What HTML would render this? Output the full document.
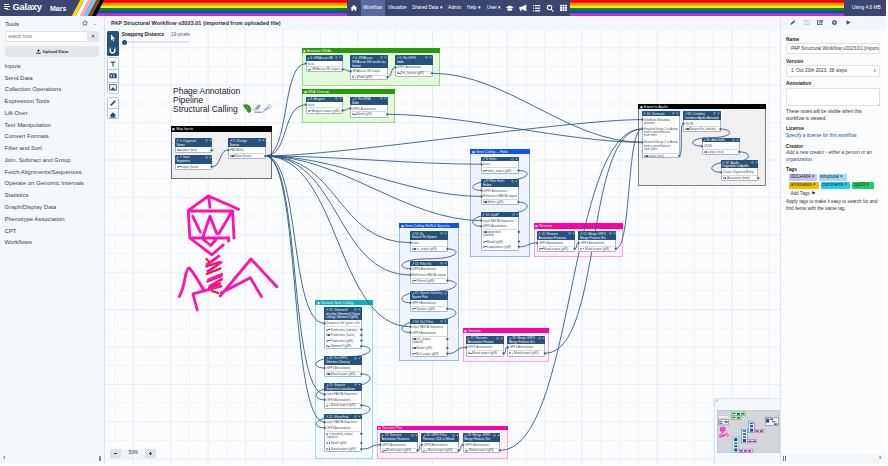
<!DOCTYPE html><html><head><meta charset="utf-8"><style>
*{box-sizing:border-box;margin:0;padding:0}
html,body{width:888px;height:466px;overflow:hidden;background:#fff;font-family:"Liberation Sans", sans-serif;}
.a{position:absolute}
.t{position:absolute;white-space:nowrap;line-height:1}
</style></head><body><div class="a" style="left:0;top:0;width:886px;height:16px;background:#3c4670"></div>
<svg class="a" style="left:0;top:0" width="886" height="16" viewBox="0 0 886 16"><polygon points="104.2,0.0 844,0.0 844,2.6666666666666665 102.8,2.6666666666666665" fill="#ff0000"/><polygon points="102.8,2.6666666666666665 844,2.6666666666666665 844,5.333333333333333 101.4,5.333333333333333" fill="#ff8c00"/><polygon points="101.4,5.333333333333333 844,5.333333333333333 844,8.0 100.0,8.0" fill="#ffed00"/><polygon points="100.0,8.0 844,8.0 844,10.666666666666666 98.60000000000001,10.666666666666666" fill="#008a1e"/><polygon points="98.60000000000001,10.666666666666666 844,10.666666666666666 844,13.333333333333334 97.2,13.333333333333334" fill="#0a4fb5"/><polygon points="97.2,13.333333333333334 844,13.333333333333334 844,16.0 95.8,16.0" fill="#c22fd6"/><polygon points="100.2,0 104.2,0 95.8,16 91.8,16" fill="#000000"/><polygon points="96.2,0 100.2,0 91.8,16 87.8,16" fill="#8b4a12"/><polygon points="92.2,0 96.2,0 87.8,16 83.8,16" fill="#6fcff0"/><polygon points="88.2,0 92.2,0 83.8,16 79.8,16" fill="#f4a9c4"/><polygon points="84.2,0 88.2,0 79.8,16 75.8,16" fill="#ffffff"/><polygon points="80.2,0 84.2,0 75.8,16 71.8,16" fill="#ffd800"/></svg>
<div class="a" style="left:347px;top:0;width:223px;height:16px;background:#3c4670"></div>
<div class="a" style="left:844px;top:0;width:42px;height:16px;background:#3c4670"></div>
<div class="a" style="left:361px;top:0;width:24px;height:16px;background:#5a689f"></div>
<svg class="a" style="left:4px;top:4px" width="7" height="6" viewBox="0 0 7 6"><rect x="0" y="0" width="5" height="1" fill="#fff"/><rect x="0" y="2" width="6" height="1" fill="#fff"/><rect x="0" y="4" width="4" height="1" fill="#fff"/><rect x="2" y="5" width="4" height="1" fill="#f2c037"/></svg>
<div class="t" style="left:12.5px;top:3px;font-size:9.3px;font-weight:bold;color:#fff;letter-spacing:-0.2px">Galaxy</div>
<div class="t" style="left:50px;top:4.5px;font-size:7px;font-weight:bold;color:#fff">Mars</div>
<div class="t" style="left:363px;top:6.2px;font-size:4.7px;color:#fff">Workflow</div>
<div class="t" style="left:388px;top:6.2px;font-size:4.7px;color:#fff">Visualize</div>
<div class="t" style="left:412px;top:6.2px;font-size:4.7px;color:#fff">Shared Data ▾</div>
<div class="t" style="left:448px;top:6.2px;font-size:4.7px;color:#fff">Admin</div>
<div class="t" style="left:467px;top:6.2px;font-size:4.7px;color:#fff">Help ▾</div>
<div class="t" style="left:487px;top:6.2px;font-size:4.7px;color:#fff">User ▾</div>
<div class="t" style="left:852px;top:6px;font-size:4.8px;color:#fff">Using 4.6 MB</div>
<svg class="a" style="left:0;top:0;overflow:visible" width="888" height="16"><g fill="#fff"><path d="M350.6,8.2 L353.9,5 L357.2,8.2 L356.3,8.2 L356.3,10.8 L354.6,10.8 L354.6,9.2 L353.2,9.2 L353.2,10.8 L351.5,10.8 L351.5,8.2 Z"/><path d="M505.7,7.3 L509.8,5.6 L513.8,7.3 L509.8,9 Z"/><path d="M507.3,8.3 L507.3,10.2 Q509.8,11.3 512.2,10.2 L512.2,8.3 L509.8,9.4 Z"/><path d="M519.4,6.8 L522,6.8 L526.3,4.6 L526.3,11.2 L522,9.2 L521.2,9.2 L521.8,11.2 L520.6,11.2 L519.9,9.2 L519.4,9.2 Z"/><rect x="533" y="5" width="1.2" height="1.2"/><rect x="535" y="5" width="5.2" height="1.2"/><rect x="533" y="7.6" width="1.2" height="1.2"/><rect x="535" y="7.6" width="5.2" height="1.2"/><rect x="533" y="10.2" width="1.2" height="1.2"/><rect x="535" y="10.2" width="5.2" height="1.2"/></g><g fill="none" stroke="#fff" stroke-width="1.1"><circle cx="549.5" cy="7.6" r="2.2"/><path d="M551.1,9.3 L553.2,11.3"/></g><g fill="#fff"><rect x="560.00" y="4.80" width="2" height="1.75"/><rect x="560.00" y="7.00" width="2" height="1.75"/><rect x="560.00" y="9.20" width="2" height="1.75"/><rect x="562.45" y="4.80" width="2" height="1.75"/><rect x="562.45" y="7.00" width="2" height="1.75"/><rect x="562.45" y="9.20" width="2" height="1.75"/><rect x="564.90" y="4.80" width="2" height="1.75"/><rect x="564.90" y="7.00" width="2" height="1.75"/><rect x="564.90" y="9.20" width="2" height="1.75"/></g></svg>
<div class="a" style="left:0;top:16px;width:105px;height:448px;background:#f4f8fb;border-right:1px solid #dfe5ec"></div>
<div class="t" style="left:5px;top:21px;font-size:6px;color:#2c3143">Tools</div>
<svg class="a" style="left:81.5px;top:20.3px" width="6" height="6" viewBox="0 0 10 10"><path d="M5,0.8 L6.2,3.7 L9.3,3.9 L6.9,5.9 L7.7,9 L5,7.3 L2.3,9 L3.1,5.9 L0.7,3.9 L3.8,3.7 Z" fill="none" stroke="#25527e" stroke-width="1"/></svg>
<div class="t" style="left:94px;top:21px;font-size:6px;color:#25537b">-</div>
<div class="a" style="left:5px;top:31px;width:94px;height:11px;background:#fff;border:1px solid #dfe3e8;border-radius:1px"></div>
<div class="a" style="left:87px;top:31px;width:12px;height:11px;background:#e4e7eb"></div>
<div class="t" style="left:8px;top:34.5px;font-size:4.5px;color:#777">search tools</div>
<div class="t" style="left:91px;top:34px;font-size:5px;color:#333">&#10005;</div>
<div class="a" style="left:5px;top:46px;width:94px;height:11px;background:#e4e7eb;border-radius:1px"></div>
<svg class="a" style="left:36px;top:48.8px" width="5" height="5" viewBox="0 0 10 10"><path d="M5,0.5 L8,4 L6,4 L6,6.5 L4,6.5 L4,4 L2,4 Z M1,6 L1,9.3 L9,9.3 L9,6 L7.5,6 L7.5,7.8 L2.5,7.8 L2.5,6 Z" fill="#2c3143"/></svg>
<div class="t" style="left:42.5px;top:49.6px;font-size:4.4px;font-weight:bold;color:#2c3143">Upload Data</div>
<div class="t" style="left:4.6px;top:63.7px;font-size:5.95px;color:#3d4250">Inputs</div>
<div class="t" style="left:4.6px;top:75.5px;font-size:5.95px;color:#3d4250">Send Data</div>
<div class="t" style="left:4.6px;top:87.2px;font-size:5.95px;color:#3d4250">Collection Operations</div>
<div class="t" style="left:4.6px;top:99.0px;font-size:5.95px;color:#3d4250">Expression Tools</div>
<div class="t" style="left:4.6px;top:110.8px;font-size:5.95px;color:#3d4250">Lift-Over</div>
<div class="t" style="left:4.6px;top:122.5px;font-size:5.95px;color:#3d4250">Text Manipulation</div>
<div class="t" style="left:4.6px;top:134.3px;font-size:5.95px;color:#3d4250">Convert Formats</div>
<div class="t" style="left:4.6px;top:146.1px;font-size:5.95px;color:#3d4250">Filter and Sort</div>
<div class="t" style="left:4.6px;top:157.9px;font-size:5.95px;color:#3d4250">Join, Subtract and Group</div>
<div class="t" style="left:4.6px;top:169.6px;font-size:5.95px;color:#3d4250">Fetch Alignments/Sequences</div>
<div class="t" style="left:4.6px;top:181.4px;font-size:5.95px;color:#3d4250">Operate on Genomic Intervals</div>
<div class="t" style="left:4.6px;top:193.2px;font-size:5.95px;color:#3d4250">Statistics</div>
<div class="t" style="left:4.6px;top:204.9px;font-size:5.95px;color:#3d4250">Graph/Display Data</div>
<div class="t" style="left:4.6px;top:216.7px;font-size:5.95px;color:#3d4250">Phenotype Association</div>
<div class="t" style="left:4.6px;top:228.5px;font-size:5.95px;color:#3d4250">CPT</div>
<div class="t" style="left:4.6px;top:240.2px;font-size:5.95px;color:#3d4250">Workflows</div>
<div class="t" style="left:3px;top:454px;font-size:7px;color:#333">&#8249;</div>
<div class="a" style="left:99.3px;top:456px;width:2.2px;height:5px;background:#888"></div>
<div class="a" style="left:105px;top:16px;width:675px;height:14px;background:#f3f8fb"></div>
<div class="t" style="left:111px;top:21px;font-size:5.6px;font-weight:bold;color:#2c3143">PAP Structural Workflow v2023.01 (imported from uploaded file)</div>
<svg class="a" style="left:105px;top:30px" width="675" height="434"><rect width="675" height="434" fill="#fafcfe"/><line x1="9.6" y1="0" x2="9.6" y2="434" stroke="#f1f4f9" stroke-width="1"/><line x1="28.3" y1="0" x2="28.3" y2="434" stroke="#e6ecf5" stroke-width="1"/><line x1="47.0" y1="0" x2="47.0" y2="434" stroke="#f1f4f9" stroke-width="1"/><line x1="65.7" y1="0" x2="65.7" y2="434" stroke="#ebf0f7" stroke-width="1"/><line x1="84.4" y1="0" x2="84.4" y2="434" stroke="#f1f4f9" stroke-width="1"/><line x1="103.1" y1="0" x2="103.1" y2="434" stroke="#e6ecf5" stroke-width="1"/><line x1="121.8" y1="0" x2="121.8" y2="434" stroke="#f1f4f9" stroke-width="1"/><line x1="140.5" y1="0" x2="140.5" y2="434" stroke="#ebf0f7" stroke-width="1"/><line x1="159.2" y1="0" x2="159.2" y2="434" stroke="#f1f4f9" stroke-width="1"/><line x1="177.9" y1="0" x2="177.9" y2="434" stroke="#e6ecf5" stroke-width="1"/><line x1="196.6" y1="0" x2="196.6" y2="434" stroke="#f1f4f9" stroke-width="1"/><line x1="215.3" y1="0" x2="215.3" y2="434" stroke="#ebf0f7" stroke-width="1"/><line x1="234.0" y1="0" x2="234.0" y2="434" stroke="#f1f4f9" stroke-width="1"/><line x1="252.7" y1="0" x2="252.7" y2="434" stroke="#e6ecf5" stroke-width="1"/><line x1="271.4" y1="0" x2="271.4" y2="434" stroke="#f1f4f9" stroke-width="1"/><line x1="290.1" y1="0" x2="290.1" y2="434" stroke="#ebf0f7" stroke-width="1"/><line x1="308.8" y1="0" x2="308.8" y2="434" stroke="#f1f4f9" stroke-width="1"/><line x1="327.5" y1="0" x2="327.5" y2="434" stroke="#e6ecf5" stroke-width="1"/><line x1="346.2" y1="0" x2="346.2" y2="434" stroke="#f1f4f9" stroke-width="1"/><line x1="364.9" y1="0" x2="364.9" y2="434" stroke="#ebf0f7" stroke-width="1"/><line x1="383.6" y1="0" x2="383.6" y2="434" stroke="#f1f4f9" stroke-width="1"/><line x1="402.3" y1="0" x2="402.3" y2="434" stroke="#e6ecf5" stroke-width="1"/><line x1="421.0" y1="0" x2="421.0" y2="434" stroke="#f1f4f9" stroke-width="1"/><line x1="439.7" y1="0" x2="439.7" y2="434" stroke="#ebf0f7" stroke-width="1"/><line x1="458.4" y1="0" x2="458.4" y2="434" stroke="#f1f4f9" stroke-width="1"/><line x1="477.1" y1="0" x2="477.1" y2="434" stroke="#e6ecf5" stroke-width="1"/><line x1="495.8" y1="0" x2="495.8" y2="434" stroke="#f1f4f9" stroke-width="1"/><line x1="514.5" y1="0" x2="514.5" y2="434" stroke="#ebf0f7" stroke-width="1"/><line x1="533.2" y1="0" x2="533.2" y2="434" stroke="#f1f4f9" stroke-width="1"/><line x1="551.9" y1="0" x2="551.9" y2="434" stroke="#e6ecf5" stroke-width="1"/><line x1="570.6" y1="0" x2="570.6" y2="434" stroke="#f1f4f9" stroke-width="1"/><line x1="589.3" y1="0" x2="589.3" y2="434" stroke="#ebf0f7" stroke-width="1"/><line x1="608.0" y1="0" x2="608.0" y2="434" stroke="#f1f4f9" stroke-width="1"/><line x1="626.7" y1="0" x2="626.7" y2="434" stroke="#e6ecf5" stroke-width="1"/><line x1="645.4" y1="0" x2="645.4" y2="434" stroke="#f1f4f9" stroke-width="1"/><line x1="664.1" y1="0" x2="664.1" y2="434" stroke="#ebf0f7" stroke-width="1"/><line x1="0" y1="17.8" x2="675" y2="17.8" stroke="#ebf0f7" stroke-width="1"/><line x1="0" y1="36.5" x2="675" y2="36.5" stroke="#f1f4f9" stroke-width="1"/><line x1="0" y1="55.2" x2="675" y2="55.2" stroke="#e6ecf5" stroke-width="1"/><line x1="0" y1="73.9" x2="675" y2="73.9" stroke="#f1f4f9" stroke-width="1"/><line x1="0" y1="92.6" x2="675" y2="92.6" stroke="#ebf0f7" stroke-width="1"/><line x1="0" y1="111.3" x2="675" y2="111.3" stroke="#f1f4f9" stroke-width="1"/><line x1="0" y1="130.0" x2="675" y2="130.0" stroke="#e6ecf5" stroke-width="1"/><line x1="0" y1="148.7" x2="675" y2="148.7" stroke="#f1f4f9" stroke-width="1"/><line x1="0" y1="167.4" x2="675" y2="167.4" stroke="#ebf0f7" stroke-width="1"/><line x1="0" y1="186.1" x2="675" y2="186.1" stroke="#f1f4f9" stroke-width="1"/><line x1="0" y1="204.8" x2="675" y2="204.8" stroke="#e6ecf5" stroke-width="1"/><line x1="0" y1="223.5" x2="675" y2="223.5" stroke="#f1f4f9" stroke-width="1"/><line x1="0" y1="242.2" x2="675" y2="242.2" stroke="#ebf0f7" stroke-width="1"/><line x1="0" y1="260.9" x2="675" y2="260.9" stroke="#f1f4f9" stroke-width="1"/><line x1="0" y1="279.6" x2="675" y2="279.6" stroke="#e6ecf5" stroke-width="1"/><line x1="0" y1="298.3" x2="675" y2="298.3" stroke="#f1f4f9" stroke-width="1"/><line x1="0" y1="317.0" x2="675" y2="317.0" stroke="#ebf0f7" stroke-width="1"/><line x1="0" y1="335.7" x2="675" y2="335.7" stroke="#f1f4f9" stroke-width="1"/><line x1="0" y1="354.4" x2="675" y2="354.4" stroke="#e6ecf5" stroke-width="1"/><line x1="0" y1="373.1" x2="675" y2="373.1" stroke="#f1f4f9" stroke-width="1"/><line x1="0" y1="391.8" x2="675" y2="391.8" stroke="#ebf0f7" stroke-width="1"/><line x1="0" y1="410.5" x2="675" y2="410.5" stroke="#f1f4f9" stroke-width="1"/><line x1="0" y1="429.2" x2="675" y2="429.2" stroke="#e6ecf5" stroke-width="1"/></svg>
<div class="a" style="left:106.5px;top:31.4px;width:12.2px;height:24.3px;background:#25527e;border-radius:1.5px"></div>
<svg class="a" style="left:109px;top:34px" width="7" height="8" viewBox="0 0 7 8"><path d="M2,0.5 L2,6.5 L3.3,5.2 L4.4,7.4 L5.2,7 L4.2,4.9 L6,4.8 Z" fill="#fff"/></svg>
<svg class="a" style="left:109.1px;top:46.8px" width="7" height="7" viewBox="0 0 7 7"><path d="M1.2,0.6 L1.2,3.6 A2.3,2.3 0 0 0 5.8,3.6 L5.8,0.6" fill="none" stroke="#fff" stroke-width="1.5"/><rect x="0.4" y="0.4" width="1.6" height="1.2" fill="#25527e"/><rect x="5" y="0.4" width="1.6" height="1.2" fill="#25527e"/></svg>
<div class="a" style="left:106.5px;top:57.2px;width:12.2px;height:36.8px;background:#fff;border:0.7px solid #b9c7d5;border-radius:1.5px"></div>
<div class="a" style="left:106.8px;top:69.4px;width:11.6px;height:0.6px;background:#b9c7d5"></div>
<div class="a" style="left:106.8px;top:81.6px;width:11.6px;height:0.6px;background:#b9c7d5"></div>
<svg class="a" style="left:109.6px;top:60.6px" width="6" height="6" viewBox="0 0 6 6"><path d="M0.6,0.6 L5.4,0.6 L5.4,1.8 L3.6,1.8 L3.6,5.6 L2.4,5.6 L2.4,1.8 L0.6,1.8 Z" fill="#25527e"/></svg>
<svg class="a" style="left:108.6px;top:72.5px" width="8" height="6" viewBox="0 0 8 6"><rect x="0.3" y="0.3" width="7.4" height="5" rx="0.6" fill="#25527e"/><path d="M1.5,1.5 L3,2.8 L1.5,4.1 M4,1.5 L5.5,2.8 L4,4.1" stroke="#fff" stroke-width="0.8" fill="none"/></svg>
<svg class="a" style="left:108.6px;top:84.2px" width="8" height="7" viewBox="0 0 8 7"><rect x="0.7" y="0.7" width="6.6" height="5.4" fill="none" stroke="#25527e" stroke-width="0.85"/><path d="M1.5,6 L4,3 L6.5,6 Z" fill="#25527e"/></svg>
<div class="a" style="left:106.5px;top:96.5px;width:12.2px;height:22.9px;background:#fff;border:0.7px solid #b9c7d5;border-radius:1.5px"></div>
<div class="a" style="left:106.8px;top:108px;width:11.6px;height:0.6px;background:#b9c7d5"></div>
<svg class="a" style="left:108.5px;top:99px" width="8" height="8" viewBox="0 0 8 8"><path d="M1.2,6.8 L1.6,5.2 L5.6,1.2 L6.8,2.4 L2.8,6.4 Z" fill="#25527e"/></svg>
<svg class="a" style="left:108.5px;top:110.5px" width="8" height="7" viewBox="0 0 8 7"><path d="M0.8,4.5 L3.8,1.2 L7,4.2 L5,6.2 L2.4,6.2 Z" fill="#25527e"/><rect x="0.5" y="6.2" width="7" height="0.6" fill="#25527e"/></svg>
<div class="t" style="left:121.8px;top:33.4px;font-size:4.7px;font-weight:bold;color:#222">Snapping Distance</div>
<div class="t" style="left:171px;top:33.2px;font-size:4.75px;color:#555">19 pixels</div>
<div class="a" style="left:123px;top:41.2px;width:66px;height:1.6px;background:#e2e5e9;border-radius:1px"></div>
<div class="a" style="left:122.3px;top:39.5px;width:5px;height:5px;background:#25527e;border-radius:50%"></div>
<div class="t" style="left:173px;top:87.2px;font-size:8.5px;color:#222;line-height:8.7px">Phage Annotation<br>Pipeline<br>Structural Calling</div>
<svg class="a" style="left:242px;top:103px" width="32" height="11" viewBox="0 0 32 11"><path d="M1.3,1.6 Q4.5,0.8 7.2,2.2 Q9.5,4.5 9.3,7.8 Q8.8,10.2 6.8,9.8 Q5.5,9.6 5,8 Q4.4,6.2 2.8,5.2 Q1,3.8 1.3,1.6 Z" fill="#3f8f2a"/><circle cx="5.4" cy="4.2" r="0.5" fill="#8ccf6a"/><path d="M11.2,6.2 L14.3,8.6 M13,5.6 L16.8,1.6 L18.5,2.8 L15.7,6.8 Z" fill="#9aabbd" stroke="#8193a8" stroke-width="0.7"/><rect x="12.8" y="8.6" width="7.5" height="1.3" fill="#8a9aac"/><path d="M20.8,9.3 Q24.5,6.5 27.5,1.3 M21.5,7 Q25.8,7 29.8,3.2" stroke="#b47fe0" stroke-width="0.9" fill="none"/><path d="M23,5 L25,7.2 M25,3.2 L27,5.6" stroke="#5ab2f0" stroke-width="0.8"/></svg>
<svg class="a" style="left:0;top:0;overflow:visible" width="888" height="466"><g fill="none" stroke="#ff10b0" stroke-width="2.8" stroke-linecap="round" stroke-linejoin="round"><path d="M188.3,210.3 L208.5,196 L238.6,209.2 M208.5,196 L210,207.3 M188.3,211 L232.6,211 L234,238 M188.3,211 L189.8,238 L228.8,238 L228.5,241 M192.8,216.3 L200.3,232 M203,236.5 L210,216.3 L216.7,233.5 M219,233.5 L231.2,212.5 M189.8,238 L212,254.8 L223.1,245 M203.3,239.5 L210.8,245.5 L216,239.5"/></g><g fill="none" stroke="#e0201e" stroke-width="2.2" stroke-linecap="round"><path d="M206.4,259 L208.5,261 M206.2,266.5 L219.5,262 M206.8,274 L220.5,268.5 M207.5,281.5 L221.5,276 M209,288 L220,283.5 M212,291 L218,293"/></g><g fill="none" stroke="#ff10b0" stroke-width="2.8" stroke-linecap="round" stroke-linejoin="round"><path d="M207.1,264.5 L218.9,256.2 M207.8,271.5 L221,262.4 M208.5,279.9 L221.7,274.3 M209.9,286.1 L221.7,279.2 M179.2,296.6 Q183,290 185,278 Q187,268 189,268 Q192,270 204.3,291 M193.1,293.8 L221,286.1 M193.1,294.5 L197.3,310 M220.3,295.9 L251,259 L276.8,286.8 M221,293.1 L250.3,277.8 L261.5,296.6"/></g></svg>
<div class="a" style="left:170.6px;top:126.1px;width:101.1px;height:52.8px;background:#f0f0f0;border:0.9px solid #707070;border-top:none"></div>
<div class="a" style="left:170.6px;top:126.1px;width:101.1px;height:5.6px;background:#000000"></div>
<div class="t" style="left:172.3px;top:128.3px;font-size:3.4px;color:#f4f4f4">&#9635; Map Inputs</div>
<div class="a" style="left:301.6px;top:48.0px;width:138.4px;height:37.6px;background:#e4f9dc;border:0.9px solid #9ad88a;border-top:none"></div>
<div class="a" style="left:301.6px;top:48.0px;width:138.4px;height:4.9px;background:#279a08"></div>
<div class="t" style="left:303.3px;top:49.9px;font-size:3.4px;color:#f4f4f4">&#9635; Annotate tRNAs</div>
<div class="a" style="left:301.8px;top:89.0px;width:93.4px;height:33.9px;background:#e4f9dc;border:0.9px solid #9ad88a;border-top:none"></div>
<div class="a" style="left:301.8px;top:89.0px;width:93.4px;height:5.0px;background:#279a08"></div>
<div class="t" style="left:303.5px;top:90.9px;font-size:3.4px;color:#f4f4f4">&#9635; tRNA Cleanup</div>
<div class="a" style="left:638.2px;top:104.0px;width:128.2px;height:82.3px;background:#f0f0f0;border:0.9px solid #808080;border-top:none"></div>
<div class="a" style="left:638.2px;top:104.0px;width:128.2px;height:4.8px;background:#000000"></div>
<div class="t" style="left:639.9px;top:105.8px;font-size:3.4px;color:#f4f4f4">&#9635; Export to Apollo</div>
<div class="a" style="left:470.0px;top:149.0px;width:59.7px;height:108.2px;background:#eef3fd;border:0.9px solid #9ab8f4;border-top:none"></div>
<div class="a" style="left:470.0px;top:149.0px;width:59.7px;height:4.8px;background:#0d55f2"></div>
<div class="t" style="left:471.7px;top:150.8px;font-size:3.4px;color:#f4f4f4">&#9635; Gene Calling ... Holin</div>
<div class="a" style="left:533.7px;top:223.3px;width:89.8px;height:34.1px;background:#fdf0f9;border:0.9px solid #f7a8da;border-top:none"></div>
<div class="a" style="left:533.7px;top:223.3px;width:89.8px;height:5.4px;background:#ff00a6"></div>
<div class="t" style="left:535.4px;top:225.4px;font-size:3.4px;color:#f4f4f4">&#9635; Rename</div>
<div class="a" style="left:399.0px;top:223.4px;width:59.7px;height:137.9px;background:#eef3fd;border:0.9px solid #9ab8f4;border-top:none"></div>
<div class="a" style="left:399.0px;top:223.4px;width:59.7px;height:5.1px;background:#0d55f2"></div>
<div class="t" style="left:400.7px;top:225.4px;font-size:3.4px;color:#f4f4f4">&#9635; Gene Calling Rz/Rz1 Spanins</div>
<div class="a" style="left:462.5px;top:327.9px;width:86.0px;height:33.9px;background:#fdf0f9;border:0.9px solid #f7a8da;border-top:none"></div>
<div class="a" style="left:462.5px;top:327.9px;width:86.0px;height:5.3px;background:#ff00a6"></div>
<div class="t" style="left:464.2px;top:329.9px;font-size:3.4px;color:#f4f4f4">&#9635; Rename</div>
<div class="a" style="left:315.0px;top:299.8px;width:58.1px;height:158.8px;background:#f4fbfc;border:0.9px solid #9fdde6;border-top:none"></div>
<div class="a" style="left:315.0px;top:299.8px;width:58.1px;height:5.0px;background:#10aec3"></div>
<div class="t" style="left:316.7px;top:301.7px;font-size:3.4px;color:#f4f4f4">&#9635; General Gene Calling</div>
<div class="a" style="left:376.5px;top:425.5px;width:131.4px;height:33.3px;background:#fdf0f9;border:0.9px solid #f7a8da;border-top:none"></div>
<div class="a" style="left:376.5px;top:425.5px;width:131.4px;height:4.4px;background:#ff00a6"></div>
<div class="t" style="left:378.2px;top:427.1px;font-size:3.4px;color:#f4f4f4">&#9635; Rename Plus</div>
<svg class="a" style="left:0;top:0;overflow:visible" width="888" height="466"><path d="M211.8,166.8 C221.7,166.8 218.4,150.0 228.3,150.0" fill="none" stroke="#25527e" stroke-width="0.85"/><path d="M265.2,156.0 C289.6,156.0 281.5,63.6 305.9,63.6" fill="none" stroke="#25527e" stroke-width="0.85"/><path d="M265.2,156.0 C289.7,156.0 281.5,104.8 306.0,104.8" fill="none" stroke="#25527e" stroke-width="0.85"/><path d="M265.2,156.0 C340.2,156.0 567.2,119.6 642.2,119.6" fill="none" stroke="#25527e" stroke-width="0.85"/><path d="M265.2,156.0 C340.2,156.0 406.5,164.2 481.5,164.2" fill="none" stroke="#25527e" stroke-width="0.85"/><path d="M265.2,156.0 C340.2,156.0 406.5,196.4 481.5,196.4" fill="none" stroke="#25527e" stroke-width="0.85"/><path d="M265.2,156.0 C340.2,156.0 406.2,220.6 481.2,220.6" fill="none" stroke="#25527e" stroke-width="0.85"/><path d="M265.2,156.0 C340.2,156.0 335.5,242.7 410.5,242.7" fill="none" stroke="#25527e" stroke-width="0.85"/><path d="M265.2,156.0 C340.2,156.0 335.5,274.9 410.5,274.9" fill="none" stroke="#25527e" stroke-width="0.85"/><path d="M265.2,156.0 C340.2,156.0 335.4,326.7 410.4,326.7" fill="none" stroke="#25527e" stroke-width="0.85"/><path d="M265.2,156.0 C300.8,156.0 288.9,323.3 324.5,323.3" fill="none" stroke="#25527e" stroke-width="0.85"/><path d="M265.2,156.0 C300.9,156.0 289.0,394.2 324.7,394.2" fill="none" stroke="#25527e" stroke-width="0.85"/><path d="M265.2,156.0 C300.9,156.0 289.0,422.2 324.7,422.2" fill="none" stroke="#25527e" stroke-width="0.85"/><path d="M342.6,69.4 C347.4,69.4 345.8,71.2 350.6,71.2" fill="none" stroke="#25527e" stroke-width="0.85"/><path d="M387.5,77.3 C392.2,77.3 390.6,67.4 395.3,67.4" fill="none" stroke="#25527e" stroke-width="0.85"/><path d="M432.2,73.3 C507.2,73.3 567.2,142.3 642.2,142.3" fill="none" stroke="#25527e" stroke-width="0.85"/><path d="M342.6,110.5 C347.2,110.5 345.7,108.5 350.3,108.5" fill="none" stroke="#25527e" stroke-width="0.85"/><path d="M387.4,114.3 C462.4,114.3 567.2,142.3 642.2,142.3" fill="none" stroke="#25527e" stroke-width="0.85"/><path d="M679.3,155.9 C683.3,155.9 679.3,123.6 683.3,123.6" fill="none" stroke="#25527e" stroke-width="0.85"/><path d="M720.5,129.1 C734.0,129.1 734.0,137.6 711.2,137.6 C688.4,137.6 688.4,146.1 701.9,146.1" fill="none" stroke="#25527e" stroke-width="0.85"/><path d="M739.3,151.9 C752.8,151.9 752.8,162.1 730.1,162.1 C707.5,162.1 707.5,172.2 721.0,172.2" fill="none" stroke="#25527e" stroke-width="0.85"/><path d="M518.6,170.5 C532.1,170.5 532.1,180.5 500.1,180.5 C468.0,180.5 468.0,190.5 481.5,190.5" fill="none" stroke="#25527e" stroke-width="0.85"/><path d="M518.6,202.1 C532.1,202.1 532.1,214.1 499.9,214.1 C467.7,214.1 467.7,226.2 481.2,226.2" fill="none" stroke="#25527e" stroke-width="0.85"/><path d="M518.9,246.8 C529.8,246.8 526.2,243.0 537.1,243.0" fill="none" stroke="#25527e" stroke-width="0.85"/><path d="M574.7,248.6 C578.7,248.6 574.6,243.0 578.6,243.0" fill="none" stroke="#25527e" stroke-width="0.85"/><path d="M615.8,248.6 C631.6,248.6 626.4,128.9 642.2,128.9" fill="none" stroke="#25527e" stroke-width="0.85"/><path d="M447.5,248.9 C461.0,248.9 461.0,258.8 429.0,258.8 C397.0,258.8 397.0,268.7 410.5,268.7" fill="none" stroke="#25527e" stroke-width="0.85"/><path d="M447.5,280.6 C461.0,280.6 461.0,291.6 428.9,291.6 C396.9,291.6 396.9,302.7 410.4,302.7" fill="none" stroke="#25527e" stroke-width="0.85"/><path d="M447.3,308.7 C460.8,308.7 460.8,320.6 428.9,320.6 C396.9,320.6 396.9,332.5 410.4,332.5" fill="none" stroke="#25527e" stroke-width="0.85"/><path d="M447.3,353.6 C458.6,353.6 454.9,347.4 466.2,347.4" fill="none" stroke="#25527e" stroke-width="0.85"/><path d="M503.5,353.3 C507.5,353.3 503.6,347.4 507.6,347.4" fill="none" stroke="#25527e" stroke-width="0.85"/><path d="M544.9,353.3 C603.3,353.3 583.8,128.9 642.2,128.9" fill="none" stroke="#25527e" stroke-width="0.85"/><path d="M361.4,346.2 C374.9,346.2 374.9,357.1 342.9,357.1 C311.0,357.1 311.0,368.0 324.5,368.0" fill="none" stroke="#25527e" stroke-width="0.85"/><path d="M361.4,374.0 C374.9,374.0 374.9,386.9 343.0,386.9 C311.2,386.9 311.2,399.8 324.7,399.8" fill="none" stroke="#25527e" stroke-width="0.85"/><path d="M361.4,405.4 C374.9,405.4 374.9,416.6 343.0,416.6 C311.2,416.6 311.2,427.8 324.7,427.8" fill="none" stroke="#25527e" stroke-width="0.85"/><path d="M361.4,449.1 C372.7,449.1 368.9,444.8 380.2,444.8" fill="none" stroke="#25527e" stroke-width="0.85"/><path d="M417.7,450.4 C421.7,450.4 417.7,444.8 421.7,444.8" fill="none" stroke="#25527e" stroke-width="0.85"/><path d="M458.7,450.4 C462.7,450.4 459.0,444.8 463.0,444.8" fill="none" stroke="#25527e" stroke-width="0.85"/><path d="M500.0,450.4 C575.0,450.4 567.2,128.9 642.2,128.9" fill="none" stroke="#25527e" stroke-width="0.85"/></svg>
<div class="a" style="left:174.7px;top:138.1px;width:37.5px;height:15.2px;background:#fff;border:0.6px solid #a9b8c7;border-radius:1px"></div>
<div class="a" style="left:174.7px;top:138.1px;width:37.5px;height:9.3px;background:#25527e;border-radius:1px 1px 0 0"></div>
<svg class="a" style="left:176.3px;top:139.2px" width="3" height="3" viewBox="0 0 3 3"><path d="M0.3,2.7 L2,1 M1.6,0.4 L2.6,1.4" stroke="#fff" stroke-width="0.6"/></svg>
<div class="t" style="left:179.5px;top:138.7px;font-size:3.1px;line-height:4px;color:#e8eef5;overflow:hidden;width:25.7px">0: Organism</div>
<div class="t" style="left:176.4px;top:142.8px;font-size:3.1px;line-height:4px;color:#fff;overflow:hidden;width:34.2px">Name</div>
<svg class="a" style="left:204.6px;top:139.0px" width="7" height="3" viewBox="0 0 7 3"><circle cx="1.5" cy="1.4" r="0.9" fill="none" stroke="#dfe6ee" stroke-width="0.45"/><path d="M4.8,0.6 L6.2,2.1 M6.2,0.6 L4.8,2.1" stroke="#fff" stroke-width="0.5"/></svg>
<div class="a" style="left:176.7px;top:149.3px;width:1.8px;height:1.8px;border:0.35px solid #9aa7b4"></div>
<div class="a" style="left:179.0px;top:149.5px;width:1.5px;height:1.4px;background:#25527e;border-radius:0.5px"></div>
<div class="t" style="left:181.0px;top:148.2px;font-size:3.0px;line-height:4px;color:#4a505b;overflow:hidden;width:29.7px">output (text)</div>
<div class="a" style="left:174.7px;top:155.0px;width:37.5px;height:15.0px;background:#fff;border:0.6px solid #a9b8c7;border-radius:1px"></div>
<div class="a" style="left:174.7px;top:155.0px;width:37.5px;height:8.8px;background:#25527e;border-radius:1px 1px 0 0"></div>
<svg class="a" style="left:176.3px;top:155.9px" width="3" height="3" viewBox="0 0 3 3"><path d="M0.3,2.7 L2,1 M1.6,0.4 L2.6,1.4" stroke="#fff" stroke-width="0.6"/></svg>
<div class="t" style="left:179.5px;top:155.4px;font-size:3.1px;line-height:4px;color:#e8eef5;overflow:hidden;width:25.7px">1: Input</div>
<div class="t" style="left:176.4px;top:159.4px;font-size:3.1px;line-height:4px;color:#fff;overflow:hidden;width:34.2px">Sequence</div>
<svg class="a" style="left:204.6px;top:155.9px" width="7" height="3" viewBox="0 0 7 3"><circle cx="1.5" cy="1.4" r="0.9" fill="none" stroke="#dfe6ee" stroke-width="0.45"/><path d="M4.8,0.6 L6.2,2.1 M6.2,0.6 L4.8,2.1" stroke="#fff" stroke-width="0.5"/></svg>
<div class="a" style="left:176.7px;top:165.9px;width:1.8px;height:1.8px;border:0.35px solid #9aa7b4"></div>
<div class="a" style="left:179.0px;top:166.1px;width:1.5px;height:1.4px;background:#25527e;border-radius:0.5px"></div>
<div class="t" style="left:181.0px;top:164.8px;font-size:3.0px;line-height:4px;color:#4a505b;overflow:hidden;width:29.7px">output (fasta)</div>
<div class="a" style="left:227.9px;top:138.1px;width:37.7px;height:21.0px;background:#fff;border:0.6px solid #a9b8c7;border-radius:1px"></div>
<div class="a" style="left:227.9px;top:138.1px;width:37.7px;height:9.0px;background:#25527e;border-radius:1px 1px 0 0"></div>
<svg class="a" style="left:229.5px;top:139.1px" width="3" height="3" viewBox="0 0 3 3"><path d="M0.3,2.7 L2,1 M1.6,0.4 L2.6,1.4" stroke="#fff" stroke-width="0.6"/></svg>
<div class="t" style="left:232.7px;top:138.6px;font-size:3.1px;line-height:4px;color:#e8eef5;overflow:hidden;width:25.9px">2: Change</div>
<div class="t" style="left:229.6px;top:142.6px;font-size:3.1px;line-height:4px;color:#fff;overflow:hidden;width:34.4px">Names</div>
<svg class="a" style="left:258.0px;top:139.0px" width="7" height="3" viewBox="0 0 7 3"><circle cx="1.5" cy="1.4" r="0.9" fill="none" stroke="#dfe6ee" stroke-width="0.45"/><path d="M4.8,0.6 L6.2,2.1 M6.2,0.6 L4.8,2.1" stroke="#fff" stroke-width="0.5"/></svg>
<div class="t" style="left:230.1px;top:148.0px;font-size:3.0px;line-height:4px;color:#4a505b;overflow:hidden;width:33.9px">FASTA file</div>
<div class="a" style="left:229.8px;top:153.2px;width:33.9px;height:0.5px;background:#d3d9df"></div>
<div class="a" style="left:229.9px;top:155.1px;width:1.8px;height:1.8px;border:0.35px solid #9aa7b4"></div>
<div class="a" style="left:232.2px;top:155.3px;width:1.5px;height:1.4px;background:#25527e;border-radius:0.5px"></div>
<div class="t" style="left:234.2px;top:154.0px;font-size:3.0px;line-height:4px;color:#4a505b;overflow:hidden;width:29.9px">Mixed (fasta)</div>
<div class="a" style="left:305.5px;top:55.2px;width:37.5px;height:17.3px;background:#fff;border:0.6px solid #a9b8c7;border-radius:1px"></div>
<div class="a" style="left:305.5px;top:55.2px;width:37.5px;height:5.6px;background:#25527e;border-radius:1px 1px 0 0"></div>
<svg class="a" style="left:307.1px;top:56.5px" width="3" height="3" viewBox="0 0 3 3"><path d="M0.3,2.7 L2,1 M1.6,0.4 L2.6,1.4" stroke="#fff" stroke-width="0.6"/></svg>
<div class="t" style="left:310.3px;top:56.0px;font-size:3.1px;line-height:4px;color:#e8eef5;overflow:hidden;width:25.7px">3: tRNAscan-SE</div>
<svg class="a" style="left:335.4px;top:56.1px" width="7" height="3" viewBox="0 0 7 3"><circle cx="1.5" cy="1.4" r="0.9" fill="none" stroke="#dfe6ee" stroke-width="0.45"/><path d="M4.8,0.6 L6.2,2.1 M6.2,0.6 L4.8,2.1" stroke="#fff" stroke-width="0.5"/></svg>
<div class="t" style="left:307.7px;top:61.6px;font-size:3.0px;line-height:4px;color:#4a505b;overflow:hidden;width:33.7px">fasta</div>
<div class="a" style="left:307.4px;top:66.4px;width:33.7px;height:0.5px;background:#d3d9df"></div>
<div class="a" style="left:307.5px;top:68.5px;width:1.8px;height:1.8px;border:0.35px solid #9aa7b4"></div>
<div class="a" style="left:309.8px;top:68.7px;width:1.5px;height:1.4px;background:#25527e;border-radius:0.5px"></div>
<div class="t" style="left:311.8px;top:67.4px;font-size:3.0px;line-height:4px;color:#4a505b;overflow:hidden;width:29.7px">tRNAscan-SE output</div>
<div class="a" style="left:350.2px;top:55.2px;width:37.7px;height:25.3px;background:#fff;border:0.6px solid #a9b8c7;border-radius:1px"></div>
<div class="a" style="left:350.2px;top:55.2px;width:37.7px;height:13.0px;background:#25527e;border-radius:1px 1px 0 0"></div>
<svg class="a" style="left:351.8px;top:56.2px" width="3" height="3" viewBox="0 0 3 3"><path d="M0.3,2.7 L2,1 M1.6,0.4 L2.6,1.4" stroke="#fff" stroke-width="0.6"/></svg>
<div class="t" style="left:355.0px;top:55.7px;font-size:3.1px;line-height:4px;color:#e8eef5;overflow:hidden;width:25.9px">4: tRNAscan</div>
<div class="t" style="left:351.9px;top:59.7px;font-size:3.1px;line-height:4px;color:#fff;overflow:hidden;width:34.4px">tRNAscan-SE results to gff</div>
<div class="t" style="left:351.9px;top:63.7px;font-size:3.1px;line-height:4px;color:#fff;overflow:hidden;width:34.4px">format</div>
<svg class="a" style="left:380.3px;top:56.1px" width="7" height="3" viewBox="0 0 7 3"><circle cx="1.5" cy="1.4" r="0.9" fill="none" stroke="#dfe6ee" stroke-width="0.45"/><path d="M4.8,0.6 L6.2,2.1 M6.2,0.6 L4.8,2.1" stroke="#fff" stroke-width="0.5"/></svg>
<div class="t" style="left:352.4px;top:69.2px;font-size:3.0px;line-height:4px;color:#4a505b;overflow:hidden;width:33.9px">tRNAscan-SE output</div>
<div class="a" style="left:352.1px;top:74.5px;width:33.9px;height:0.5px;background:#d3d9df"></div>
<div class="a" style="left:352.2px;top:76.4px;width:1.8px;height:1.8px;border:0.35px solid #9aa7b4"></div>
<div class="a" style="left:354.5px;top:76.6px;width:1.5px;height:1.4px;background:#25527e;border-radius:0.5px"></div>
<div class="t" style="left:356.5px;top:75.3px;font-size:3.0px;line-height:4px;color:#4a505b;overflow:hidden;width:29.9px">Mixed (gff3)</div>
<div class="a" style="left:394.9px;top:55.2px;width:37.7px;height:21.4px;background:#fff;border:0.6px solid #a9b8c7;border-radius:1px"></div>
<div class="a" style="left:394.9px;top:55.2px;width:37.7px;height:9.8px;background:#25527e;border-radius:1px 1px 0 0"></div>
<svg class="a" style="left:396.5px;top:56.4px" width="3" height="3" viewBox="0 0 3 3"><path d="M0.3,2.7 L2,1 M1.6,0.4 L2.6,1.4" stroke="#fff" stroke-width="0.6"/></svg>
<div class="t" style="left:399.7px;top:55.9px;font-size:3.1px;line-height:4px;color:#e8eef5;overflow:hidden;width:25.9px">5: Fix GFF3</div>
<div class="t" style="left:396.6px;top:60.3px;font-size:3.1px;line-height:4px;color:#fff;overflow:hidden;width:34.4px">fields</div>
<svg class="a" style="left:425.0px;top:56.1px" width="7" height="3" viewBox="0 0 7 3"><circle cx="1.5" cy="1.4" r="0.9" fill="none" stroke="#dfe6ee" stroke-width="0.45"/><path d="M4.8,0.6 L6.2,2.1 M6.2,0.6 L4.8,2.1" stroke="#fff" stroke-width="0.5"/></svg>
<div class="t" style="left:397.1px;top:65.4px;font-size:3.0px;line-height:4px;color:#4a505b;overflow:hidden;width:33.9px">GFF3 Annotations</div>
<div class="a" style="left:396.8px;top:70.5px;width:33.9px;height:0.5px;background:#d3d9df"></div>
<div class="a" style="left:396.9px;top:72.4px;width:1.8px;height:1.8px;border:0.35px solid #9aa7b4"></div>
<div class="a" style="left:399.2px;top:72.6px;width:1.5px;height:1.4px;background:#25527e;border-radius:0.5px"></div>
<div class="t" style="left:401.2px;top:71.3px;font-size:3.0px;line-height:4px;color:#4a505b;overflow:hidden;width:29.9px">Fix_feature (gff3)</div>
<div class="a" style="left:305.6px;top:96.5px;width:37.4px;height:17.0px;background:#fff;border:0.6px solid #a9b8c7;border-radius:1px"></div>
<div class="a" style="left:305.6px;top:96.5px;width:37.4px;height:5.2px;background:#25527e;border-radius:1px 1px 0 0"></div>
<svg class="a" style="left:307.2px;top:97.6px" width="3" height="3" viewBox="0 0 3 3"><path d="M0.3,2.7 L2,1 M1.6,0.4 L2.6,1.4" stroke="#fff" stroke-width="0.6"/></svg>
<div class="t" style="left:310.4px;top:97.1px;font-size:3.1px;line-height:4px;color:#e8eef5;overflow:hidden;width:25.6px">6: Aragorn</div>
<svg class="a" style="left:335.4px;top:97.4px" width="7" height="3" viewBox="0 0 7 3"><circle cx="1.5" cy="1.4" r="0.9" fill="none" stroke="#dfe6ee" stroke-width="0.45"/><path d="M4.8,0.6 L6.2,2.1 M6.2,0.6 L4.8,2.1" stroke="#fff" stroke-width="0.5"/></svg>
<div class="t" style="left:307.8px;top:102.8px;font-size:3.0px;line-height:4px;color:#4a505b;overflow:hidden;width:33.6px">fasta</div>
<div class="a" style="left:307.5px;top:107.4px;width:33.6px;height:0.5px;background:#d3d9df"></div>
<div class="a" style="left:307.6px;top:109.6px;width:1.8px;height:1.8px;border:0.35px solid #9aa7b4"></div>
<div class="a" style="left:309.9px;top:109.8px;width:1.5px;height:1.4px;background:#25527e;border-radius:0.5px"></div>
<div class="t" style="left:311.9px;top:108.5px;font-size:3.0px;line-height:4px;color:#4a505b;overflow:hidden;width:29.6px">Aragorn output (gff3)</div>
<div class="a" style="left:349.9px;top:96.5px;width:37.9px;height:21.1px;background:#fff;border:0.6px solid #a9b8c7;border-radius:1px"></div>
<div class="a" style="left:349.9px;top:96.5px;width:37.9px;height:8.9px;background:#25527e;border-radius:1px 1px 0 0"></div>
<svg class="a" style="left:351.5px;top:97.5px" width="3" height="3" viewBox="0 0 3 3"><path d="M0.3,2.7 L2,1 M1.6,0.4 L2.6,1.4" stroke="#fff" stroke-width="0.6"/></svg>
<div class="t" style="left:354.7px;top:97.0px;font-size:3.1px;line-height:4px;color:#e8eef5;overflow:hidden;width:26.1px">7: Fix tRNA</div>
<div class="t" style="left:351.6px;top:100.9px;font-size:3.1px;line-height:4px;color:#fff;overflow:hidden;width:34.6px">fields</div>
<svg class="a" style="left:380.2px;top:97.4px" width="7" height="3" viewBox="0 0 7 3"><circle cx="1.5" cy="1.4" r="0.9" fill="none" stroke="#dfe6ee" stroke-width="0.45"/><path d="M4.8,0.6 L6.2,2.1 M6.2,0.6 L4.8,2.1" stroke="#fff" stroke-width="0.5"/></svg>
<div class="t" style="left:352.1px;top:106.5px;font-size:3.0px;line-height:4px;color:#4a505b;overflow:hidden;width:34.1px">GFF3 Annotations</div>
<div class="a" style="left:351.8px;top:111.4px;width:34.1px;height:0.5px;background:#d3d9df"></div>
<div class="a" style="left:351.9px;top:113.4px;width:1.8px;height:1.8px;border:0.35px solid #9aa7b4"></div>
<div class="a" style="left:354.2px;top:113.6px;width:1.5px;height:1.4px;background:#25527e;border-radius:0.5px"></div>
<div class="t" style="left:356.2px;top:112.3px;font-size:3.0px;line-height:4px;color:#4a505b;overflow:hidden;width:30.1px">Mixed (gff3)</div>
<div class="a" style="left:641.8px;top:111.4px;width:37.9px;height:47.1px;background:#fff;border:0.6px solid #a9b8c7;border-radius:1px"></div>
<div class="a" style="left:641.8px;top:111.4px;width:37.9px;height:5.0px;background:#25527e;border-radius:1px 1px 0 0"></div>
<svg class="a" style="left:643.4px;top:112.4px" width="3" height="3" viewBox="0 0 3 3"><path d="M0.3,2.7 L2,1 M1.6,0.4 L2.6,1.4" stroke="#fff" stroke-width="0.6"/></svg>
<div class="t" style="left:646.6px;top:111.9px;font-size:3.1px;line-height:4px;color:#e8eef5;overflow:hidden;width:26.1px">34: Generate</div>
<svg class="a" style="left:672.1px;top:112.3px" width="7" height="3" viewBox="0 0 7 3"><circle cx="1.5" cy="1.4" r="0.9" fill="none" stroke="#dfe6ee" stroke-width="0.45"/><path d="M4.8,0.6 L6.2,2.1 M6.2,0.6 L4.8,2.1" stroke="#fff" stroke-width="0.5"/></svg>
<div class="t" style="left:644.0px;top:117.6px;font-size:3.0px;line-height:4px;color:#4a505b;overflow:hidden;width:34.1px">GenBank Metadata</div>
<div class="t" style="left:644.0px;top:120.5px;font-size:3.0px;line-height:4px;color:#4a505b;overflow:hidden;width:34.1px">genome</div>
<div class="t" style="left:644.0px;top:126.9px;font-size:3.0px;line-height:4px;color:#4a505b;overflow:hidden;width:34.1px">Feature/Group 1 to Annotation</div>
<div class="t" style="left:644.0px;top:130.3px;font-size:3.0px;line-height:4px;color:#4a505b;overflow:hidden;width:34.1px">from a gene/feature</div>
<div class="t" style="left:644.0px;top:133.4px;font-size:3.0px;line-height:4px;color:#4a505b;overflow:hidden;width:34.1px">from here</div>
<div class="t" style="left:644.0px;top:140.3px;font-size:3.0px;line-height:4px;color:#4a505b;overflow:hidden;width:34.1px">Feature/Group 2 to Annotation</div>
<div class="t" style="left:644.0px;top:143.5px;font-size:3.0px;line-height:4px;color:#4a505b;overflow:hidden;width:34.1px">from a gene/feature</div>
<div class="t" style="left:644.0px;top:146.9px;font-size:3.0px;line-height:4px;color:#4a505b;overflow:hidden;width:34.1px">from here</div>
<div class="a" style="left:643.7px;top:153.3px;width:34.1px;height:0.5px;background:#d3d9df"></div>
<div class="a" style="left:643.8px;top:155.0px;width:1.8px;height:1.8px;border:0.35px solid #9aa7b4"></div>
<div class="a" style="left:646.1px;top:155.2px;width:1.5px;height:1.4px;background:#25527e;border-radius:0.5px"></div>
<div class="t" style="left:648.1px;top:153.9px;font-size:3.0px;line-height:4px;color:#4a505b;overflow:hidden;width:30.1px">output (text)</div>
<div class="a" style="left:682.9px;top:111.4px;width:38.0px;height:21.0px;background:#fff;border:0.6px solid #a9b8c7;border-radius:1px"></div>
<div class="a" style="left:682.9px;top:111.4px;width:38.0px;height:8.6px;background:#25527e;border-radius:1px 1px 0 0"></div>
<svg class="a" style="left:684.5px;top:112.3px" width="3" height="3" viewBox="0 0 3 3"><path d="M0.3,2.7 L2,1 M1.6,0.4 L2.6,1.4" stroke="#fff" stroke-width="0.6"/></svg>
<div class="t" style="left:687.7px;top:111.8px;font-size:3.1px;line-height:4px;color:#e8eef5;overflow:hidden;width:26.2px">35: Combine</div>
<div class="t" style="left:684.6px;top:115.6px;font-size:3.1px;line-height:4px;color:#fff;overflow:hidden;width:34.7px">Combine Apollo Annotations</div>
<svg class="a" style="left:713.3px;top:112.3px" width="7" height="3" viewBox="0 0 7 3"><circle cx="1.5" cy="1.4" r="0.9" fill="none" stroke="#dfe6ee" stroke-width="0.45"/><path d="M4.8,0.6 L6.2,2.1 M6.2,0.6 L4.8,2.1" stroke="#fff" stroke-width="0.5"/></svg>
<div class="t" style="left:685.1px;top:121.6px;font-size:3.0px;line-height:4px;color:#4a505b;overflow:hidden;width:34.2px">JSON</div>
<div class="a" style="left:684.8px;top:126.4px;width:34.2px;height:0.5px;background:#d3d9df"></div>
<div class="a" style="left:684.9px;top:128.2px;width:1.8px;height:1.8px;border:0.35px solid #9aa7b4"></div>
<div class="a" style="left:687.2px;top:128.4px;width:1.5px;height:1.4px;background:#25527e;border-radius:0.5px"></div>
<div class="t" style="left:689.2px;top:127.1px;font-size:3.0px;line-height:4px;color:#4a505b;overflow:hidden;width:30.2px">Merged file (tabular)</div>
<div class="a" style="left:701.5px;top:137.9px;width:38.2px;height:16.8px;background:#fff;border:0.6px solid #a9b8c7;border-radius:1px"></div>
<div class="a" style="left:701.5px;top:137.9px;width:38.2px;height:4.5px;background:#25527e;border-radius:1px 1px 0 0"></div>
<svg class="a" style="left:703.1px;top:138.7px" width="3" height="3" viewBox="0 0 3 3"><path d="M0.3,2.7 L2,1 M1.6,0.4 L2.6,1.4" stroke="#fff" stroke-width="0.6"/></svg>
<div class="t" style="left:706.3px;top:138.2px;font-size:3.1px;line-height:4px;color:#e8eef5;overflow:hidden;width:26.4px">36: Add fields</div>
<svg class="a" style="left:732.1px;top:138.8px" width="7" height="3" viewBox="0 0 7 3"><circle cx="1.5" cy="1.4" r="0.9" fill="none" stroke="#dfe6ee" stroke-width="0.45"/><path d="M4.8,0.6 L6.2,2.1 M6.2,0.6 L4.8,2.1" stroke="#fff" stroke-width="0.5"/></svg>
<div class="t" style="left:703.7px;top:144.1px;font-size:3.0px;line-height:4px;color:#4a505b;overflow:hidden;width:34.4px">JSON</div>
<div class="a" style="left:703.4px;top:148.8px;width:34.4px;height:0.5px;background:#d3d9df"></div>
<div class="a" style="left:703.5px;top:151.0px;width:1.8px;height:1.8px;border:0.35px solid #9aa7b4"></div>
<div class="a" style="left:705.8px;top:151.2px;width:1.5px;height:1.4px;background:#25527e;border-radius:0.5px"></div>
<div class="t" style="left:707.8px;top:149.9px;font-size:3.0px;line-height:4px;color:#4a505b;overflow:hidden;width:30.4px">output (text)</div>
<div class="a" style="left:720.6px;top:160.3px;width:37.9px;height:20.3px;background:#fff;border:0.6px solid #a9b8c7;border-radius:1px"></div>
<div class="a" style="left:720.6px;top:160.3px;width:37.9px;height:8.2px;background:#25527e;border-radius:1px 1px 0 0"></div>
<svg class="a" style="left:722.2px;top:161.1px" width="3" height="3" viewBox="0 0 3 3"><path d="M0.3,2.7 L2,1 M1.6,0.4 L2.6,1.4" stroke="#fff" stroke-width="0.6"/></svg>
<div class="t" style="left:725.4px;top:160.6px;font-size:3.1px;line-height:4px;color:#e8eef5;overflow:hidden;width:26.1px">37: Apollo</div>
<div class="t" style="left:722.3px;top:164.2px;font-size:3.1px;line-height:4px;color:#fff;overflow:hidden;width:34.6px">Organism to Apollo</div>
<svg class="a" style="left:750.9px;top:161.2px" width="7" height="3" viewBox="0 0 7 3"><circle cx="1.5" cy="1.4" r="0.9" fill="none" stroke="#dfe6ee" stroke-width="0.45"/><path d="M4.8,0.6 L6.2,2.1 M6.2,0.6 L4.8,2.1" stroke="#fff" stroke-width="0.5"/></svg>
<div class="t" style="left:722.8px;top:170.2px;font-size:3.0px;line-height:4px;color:#4a505b;overflow:hidden;width:34.1px">Create Organism/Entry</div>
<div class="a" style="left:722.5px;top:175.3px;width:34.1px;height:0.5px;background:#d3d9df"></div>
<div class="a" style="left:722.6px;top:177.1px;width:1.8px;height:1.8px;border:0.35px solid #9aa7b4"></div>
<div class="a" style="left:724.9px;top:177.3px;width:1.5px;height:1.4px;background:#25527e;border-radius:0.5px"></div>
<div class="t" style="left:726.9px;top:176.0px;font-size:3.0px;line-height:4px;color:#4a505b;overflow:hidden;width:30.1px">Annotation (html)</div>
<div class="a" style="left:481.1px;top:156.6px;width:37.9px;height:17.0px;background:#fff;border:0.6px solid #a9b8c7;border-radius:1px"></div>
<div class="a" style="left:481.1px;top:156.6px;width:37.9px;height:4.2px;background:#25527e;border-radius:1px 1px 0 0"></div>
<svg class="a" style="left:482.7px;top:157.2px" width="3" height="3" viewBox="0 0 3 3"><path d="M0.3,2.7 L2,1 M1.6,0.4 L2.6,1.4" stroke="#fff" stroke-width="0.6"/></svg>
<div class="t" style="left:485.9px;top:156.7px;font-size:3.1px;line-height:4px;color:#e8eef5;overflow:hidden;width:26.1px">8: Holin</div>
<svg class="a" style="left:511.4px;top:157.5px" width="7" height="3" viewBox="0 0 7 3"><circle cx="1.5" cy="1.4" r="0.9" fill="none" stroke="#dfe6ee" stroke-width="0.45"/><path d="M4.8,0.6 L6.2,2.1 M6.2,0.6 L4.8,2.1" stroke="#fff" stroke-width="0.5"/></svg>
<div class="t" style="left:483.3px;top:162.2px;font-size:3.0px;line-height:4px;color:#4a505b;overflow:hidden;width:34.1px">fasta</div>
<div class="a" style="left:483.0px;top:167.2px;width:34.1px;height:0.5px;background:#d3d9df"></div>
<div class="a" style="left:483.1px;top:169.6px;width:1.8px;height:1.8px;border:0.35px solid #9aa7b4"></div>
<div class="a" style="left:485.4px;top:169.8px;width:1.5px;height:1.4px;background:#25527e;border-radius:0.5px"></div>
<div class="t" style="left:487.4px;top:168.5px;font-size:3.0px;line-height:4px;color:#4a505b;overflow:hidden;width:30.1px">holin_output (gff3)</div>
<div class="a" style="left:481.1px;top:178.8px;width:37.9px;height:26.7px;background:#fff;border:0.6px solid #a9b8c7;border-radius:1px"></div>
<div class="a" style="left:481.1px;top:178.8px;width:37.9px;height:8.7px;background:#25527e;border-radius:1px 1px 0 0"></div>
<svg class="a" style="left:482.7px;top:179.7px" width="3" height="3" viewBox="0 0 3 3"><path d="M0.3,2.7 L2,1 M1.6,0.4 L2.6,1.4" stroke="#fff" stroke-width="0.6"/></svg>
<div class="t" style="left:485.9px;top:179.2px;font-size:3.1px;line-height:4px;color:#e8eef5;overflow:hidden;width:26.1px">9: Filter Holin</div>
<div class="t" style="left:482.8px;top:183.1px;font-size:3.1px;line-height:4px;color:#fff;overflow:hidden;width:34.6px">Holins</div>
<svg class="a" style="left:511.4px;top:179.7px" width="7" height="3" viewBox="0 0 7 3"><circle cx="1.5" cy="1.4" r="0.9" fill="none" stroke="#dfe6ee" stroke-width="0.45"/><path d="M4.8,0.6 L6.2,2.1 M6.2,0.6 L4.8,2.1" stroke="#fff" stroke-width="0.5"/></svg>
<div class="t" style="left:483.3px;top:188.5px;font-size:3.0px;line-height:4px;color:#4a505b;overflow:hidden;width:34.1px">GFF3 Annotations</div>
<div class="t" style="left:483.3px;top:194.4px;font-size:3.0px;line-height:4px;color:#4a505b;overflow:hidden;width:34.1px">Reference FASTA sequence</div>
<div class="a" style="left:483.0px;top:199.1px;width:34.1px;height:0.5px;background:#d3d9df"></div>
<div class="a" style="left:483.1px;top:201.2px;width:1.8px;height:1.8px;border:0.35px solid #9aa7b4"></div>
<div class="a" style="left:485.4px;top:201.4px;width:1.5px;height:1.4px;background:#25527e;border-radius:0.5px"></div>
<div class="t" style="left:487.4px;top:200.1px;font-size:3.0px;line-height:4px;color:#4a505b;overflow:hidden;width:30.1px">Holins (gff3)</div>
<div class="a" style="left:480.8px;top:212.4px;width:38.5px;height:38.3px;background:#fff;border:0.6px solid #a9b8c7;border-radius:1px"></div>
<div class="a" style="left:480.8px;top:212.4px;width:38.5px;height:4.9px;background:#25527e;border-radius:1px 1px 0 0"></div>
<svg class="a" style="left:482.4px;top:213.4px" width="3" height="3" viewBox="0 0 3 3"><path d="M0.3,2.7 L2,1 M1.6,0.4 L2.6,1.4" stroke="#fff" stroke-width="0.6"/></svg>
<div class="t" style="left:485.6px;top:212.9px;font-size:3.1px;line-height:4px;color:#e8eef5;overflow:hidden;width:26.7px">10: LipoP</div>
<svg class="a" style="left:511.7px;top:213.3px" width="7" height="3" viewBox="0 0 7 3"><circle cx="1.5" cy="1.4" r="0.9" fill="none" stroke="#dfe6ee" stroke-width="0.45"/><path d="M4.8,0.6 L6.2,2.1 M6.2,0.6 L4.8,2.1" stroke="#fff" stroke-width="0.5"/></svg>
<div class="t" style="left:483.0px;top:218.6px;font-size:3.0px;line-height:4px;color:#4a505b;overflow:hidden;width:34.7px">Input FASTA Sequence</div>
<div class="t" style="left:483.0px;top:224.2px;font-size:3.0px;line-height:4px;color:#4a505b;overflow:hidden;width:34.7px">GFF3 Annotations</div>
<div class="a" style="left:482.7px;top:228.6px;width:34.7px;height:0.5px;background:#d3d9df"></div>
<div class="a" style="left:482.8px;top:231.0px;width:1.8px;height:1.8px;border:0.35px solid #9aa7b4"></div>
<div class="a" style="left:485.1px;top:231.2px;width:1.5px;height:1.4px;background:#25527e;border-radius:0.5px"></div>
<div class="t" style="left:487.1px;top:229.9px;font-size:3.0px;line-height:4px;color:#4a505b;overflow:hidden;width:30.7px">lipoprotein</div>
<div class="t" style="left:483.0px;top:233.0px;font-size:3.0px;line-height:4px;color:#4a505b;overflow:hidden;width:34.7px">(tabular)</div>
<div class="a" style="left:482.8px;top:240.6px;width:1.8px;height:1.8px;border:0.35px solid #9aa7b4"></div>
<div class="a" style="left:485.1px;top:240.8px;width:1.5px;height:1.4px;background:#25527e;border-radius:0.5px"></div>
<div class="t" style="left:487.1px;top:239.5px;font-size:3.0px;line-height:4px;color:#4a505b;overflow:hidden;width:30.7px">Model (gff3)</div>
<div class="a" style="left:482.8px;top:245.9px;width:1.8px;height:1.8px;border:0.35px solid #9aa7b4"></div>
<div class="a" style="left:485.1px;top:246.1px;width:1.5px;height:1.4px;background:#25527e;border-radius:0.5px"></div>
<div class="t" style="left:487.1px;top:244.8px;font-size:3.0px;line-height:4px;color:#4a505b;overflow:hidden;width:30.7px">Lipoproteins (gff3)</div>
<div class="a" style="left:536.7px;top:231.3px;width:38.4px;height:20.9px;background:#fff;border:0.6px solid #a9b8c7;border-radius:1px"></div>
<div class="a" style="left:536.7px;top:231.3px;width:38.4px;height:8.7px;background:#25527e;border-radius:1px 1px 0 0"></div>
<svg class="a" style="left:538.3px;top:232.2px" width="3" height="3" viewBox="0 0 3 3"><path d="M0.3,2.7 L2,1 M1.6,0.4 L2.6,1.4" stroke="#fff" stroke-width="0.6"/></svg>
<div class="t" style="left:541.5px;top:231.7px;font-size:3.1px;line-height:4px;color:#e8eef5;overflow:hidden;width:26.6px">11: Rename</div>
<div class="t" style="left:538.4px;top:235.6px;font-size:3.1px;line-height:4px;color:#fff;overflow:hidden;width:35.1px">Annotation Features</div>
<svg class="a" style="left:567.5px;top:232.2px" width="7" height="3" viewBox="0 0 7 3"><circle cx="1.5" cy="1.4" r="0.9" fill="none" stroke="#dfe6ee" stroke-width="0.45"/><path d="M4.8,0.6 L6.2,2.1 M6.2,0.6 L4.8,2.1" stroke="#fff" stroke-width="0.5"/></svg>
<div class="t" style="left:538.9px;top:241.0px;font-size:3.0px;line-height:4px;color:#4a505b;overflow:hidden;width:34.6px">GFF3 Annotations</div>
<div class="a" style="left:538.6px;top:245.6px;width:34.6px;height:0.5px;background:#d3d9df"></div>
<div class="a" style="left:538.7px;top:247.7px;width:1.8px;height:1.8px;border:0.35px solid #9aa7b4"></div>
<div class="a" style="left:541.0px;top:247.9px;width:1.5px;height:1.4px;background:#25527e;border-radius:0.5px"></div>
<div class="t" style="left:543.0px;top:246.6px;font-size:3.0px;line-height:4px;color:#4a505b;overflow:hidden;width:30.6px">Mixed output (gff3)</div>
<div class="a" style="left:578.2px;top:231.3px;width:38.0px;height:20.9px;background:#fff;border:0.6px solid #a9b8c7;border-radius:1px"></div>
<div class="a" style="left:578.2px;top:231.3px;width:38.0px;height:8.7px;background:#25527e;border-radius:1px 1px 0 0"></div>
<svg class="a" style="left:579.8px;top:232.2px" width="3" height="3" viewBox="0 0 3 3"><path d="M0.3,2.7 L2,1 M1.6,0.4 L2.6,1.4" stroke="#fff" stroke-width="0.6"/></svg>
<div class="t" style="left:583.0px;top:231.7px;font-size:3.1px;line-height:4px;color:#e8eef5;overflow:hidden;width:26.2px">12: Merge GFF3</div>
<div class="t" style="left:579.9px;top:235.6px;font-size:3.1px;line-height:4px;color:#fff;overflow:hidden;width:34.7px">Merge Feature IDs</div>
<svg class="a" style="left:608.6px;top:232.2px" width="7" height="3" viewBox="0 0 7 3"><circle cx="1.5" cy="1.4" r="0.9" fill="none" stroke="#dfe6ee" stroke-width="0.45"/><path d="M4.8,0.6 L6.2,2.1 M6.2,0.6 L4.8,2.1" stroke="#fff" stroke-width="0.5"/></svg>
<div class="t" style="left:580.4px;top:241.0px;font-size:3.0px;line-height:4px;color:#4a505b;overflow:hidden;width:34.2px">GFF3 Annotations</div>
<div class="a" style="left:580.1px;top:245.6px;width:34.2px;height:0.5px;background:#d3d9df"></div>
<div class="a" style="left:580.2px;top:247.7px;width:1.8px;height:1.8px;border:0.35px solid #9aa7b4"></div>
<div class="a" style="left:582.5px;top:247.9px;width:1.5px;height:1.4px;background:#25527e;border-radius:0.5px"></div>
<div class="t" style="left:584.5px;top:246.6px;font-size:3.0px;line-height:4px;color:#4a505b;overflow:hidden;width:30.2px">Mixed output (gff3)</div>
<div class="a" style="left:410.1px;top:231.1px;width:37.8px;height:21.0px;background:#fff;border:0.6px solid #a9b8c7;border-radius:1px"></div>
<div class="a" style="left:410.1px;top:231.1px;width:37.8px;height:8.5px;background:#25527e;border-radius:1px 1px 0 0"></div>
<svg class="a" style="left:411.7px;top:232.0px" width="3" height="3" viewBox="0 0 3 3"><path d="M0.3,2.7 L2,1 M1.6,0.4 L2.6,1.4" stroke="#fff" stroke-width="0.6"/></svg>
<div class="t" style="left:414.9px;top:231.5px;font-size:3.1px;line-height:4px;color:#e8eef5;overflow:hidden;width:26.0px">13: Rz</div>
<div class="t" style="left:411.8px;top:235.2px;font-size:3.1px;line-height:4px;color:#fff;overflow:hidden;width:34.5px">Search Rz Spanin</div>
<svg class="a" style="left:440.3px;top:232.0px" width="7" height="3" viewBox="0 0 7 3"><circle cx="1.5" cy="1.4" r="0.9" fill="none" stroke="#dfe6ee" stroke-width="0.45"/><path d="M4.8,0.6 L6.2,2.1 M6.2,0.6 L4.8,2.1" stroke="#fff" stroke-width="0.5"/></svg>
<div class="t" style="left:412.3px;top:240.7px;font-size:3.0px;line-height:4px;color:#4a505b;overflow:hidden;width:34.0px">fasta</div>
<div class="a" style="left:412.0px;top:245.5px;width:34.0px;height:0.5px;background:#d3d9df"></div>
<div class="a" style="left:412.1px;top:248.0px;width:1.8px;height:1.8px;border:0.35px solid #9aa7b4"></div>
<div class="a" style="left:414.4px;top:248.2px;width:1.5px;height:1.4px;background:#25527e;border-radius:0.5px"></div>
<div class="t" style="left:416.4px;top:246.9px;font-size:3.0px;line-height:4px;color:#4a505b;overflow:hidden;width:30.0px">rz_output (gff3)</div>
<div class="a" style="left:410.1px;top:261.0px;width:37.8px;height:23.1px;background:#fff;border:0.6px solid #a9b8c7;border-radius:1px"></div>
<div class="a" style="left:410.1px;top:261.0px;width:37.8px;height:5.2px;background:#25527e;border-radius:1px 1px 0 0"></div>
<svg class="a" style="left:411.7px;top:262.1px" width="3" height="3" viewBox="0 0 3 3"><path d="M0.3,2.7 L2,1 M1.6,0.4 L2.6,1.4" stroke="#fff" stroke-width="0.6"/></svg>
<div class="t" style="left:414.9px;top:261.6px;font-size:3.1px;line-height:4px;color:#e8eef5;overflow:hidden;width:26.0px">14: Filter Rz</div>
<svg class="a" style="left:440.3px;top:261.9px" width="7" height="3" viewBox="0 0 7 3"><circle cx="1.5" cy="1.4" r="0.9" fill="none" stroke="#dfe6ee" stroke-width="0.45"/><path d="M4.8,0.6 L6.2,2.1 M6.2,0.6 L4.8,2.1" stroke="#fff" stroke-width="0.5"/></svg>
<div class="t" style="left:412.3px;top:266.7px;font-size:3.0px;line-height:4px;color:#4a505b;overflow:hidden;width:34.0px">GFF3 Annotations</div>
<div class="t" style="left:412.3px;top:272.9px;font-size:3.0px;line-height:4px;color:#4a505b;overflow:hidden;width:34.0px">Reference FASTA sequence</div>
<div class="a" style="left:412.0px;top:277.5px;width:34.0px;height:0.5px;background:#d3d9df"></div>
<div class="a" style="left:412.1px;top:279.7px;width:1.8px;height:1.8px;border:0.35px solid #9aa7b4"></div>
<div class="a" style="left:414.4px;top:279.9px;width:1.5px;height:1.4px;background:#25527e;border-radius:0.5px"></div>
<div class="t" style="left:416.4px;top:278.6px;font-size:3.0px;line-height:4px;color:#4a505b;overflow:hidden;width:30.0px">Filtered (gff3)</div>
<div class="a" style="left:410.0px;top:291.0px;width:37.7px;height:21.0px;background:#fff;border:0.6px solid #a9b8c7;border-radius:1px"></div>
<div class="a" style="left:410.0px;top:291.0px;width:37.7px;height:8.6px;background:#25527e;border-radius:1px 1px 0 0"></div>
<svg class="a" style="left:411.6px;top:291.9px" width="3" height="3" viewBox="0 0 3 3"><path d="M0.3,2.7 L2,1 M1.6,0.4 L2.6,1.4" stroke="#fff" stroke-width="0.6"/></svg>
<div class="t" style="left:414.8px;top:291.4px;font-size:3.1px;line-height:4px;color:#e8eef5;overflow:hidden;width:25.9px">15: Spanin Search</div>
<div class="t" style="left:411.7px;top:295.2px;font-size:3.1px;line-height:4px;color:#fff;overflow:hidden;width:34.4px">Spanin Pair</div>
<svg class="a" style="left:440.1px;top:291.9px" width="7" height="3" viewBox="0 0 7 3"><circle cx="1.5" cy="1.4" r="0.9" fill="none" stroke="#dfe6ee" stroke-width="0.45"/><path d="M4.8,0.6 L6.2,2.1 M6.2,0.6 L4.8,2.1" stroke="#fff" stroke-width="0.5"/></svg>
<div class="t" style="left:412.2px;top:300.7px;font-size:3.0px;line-height:4px;color:#4a505b;overflow:hidden;width:33.9px">GFF3 Annotations</div>
<div class="a" style="left:411.9px;top:305.6px;width:33.9px;height:0.5px;background:#d3d9df"></div>
<div class="a" style="left:412.0px;top:307.8px;width:1.8px;height:1.8px;border:0.35px solid #9aa7b4"></div>
<div class="a" style="left:414.3px;top:308.0px;width:1.5px;height:1.4px;background:#25527e;border-radius:0.5px"></div>
<div class="t" style="left:416.3px;top:306.7px;font-size:3.0px;line-height:4px;color:#4a505b;overflow:hidden;width:29.9px">Spanins (gff3)</div>
<div class="a" style="left:410.0px;top:319.3px;width:37.7px;height:37.3px;background:#fff;border:0.6px solid #a9b8c7;border-radius:1px"></div>
<div class="a" style="left:410.0px;top:319.3px;width:37.7px;height:4.6px;background:#25527e;border-radius:1px 1px 0 0"></div>
<svg class="a" style="left:411.6px;top:320.1px" width="3" height="3" viewBox="0 0 3 3"><path d="M0.3,2.7 L2,1 M1.6,0.4 L2.6,1.4" stroke="#fff" stroke-width="0.6"/></svg>
<div class="t" style="left:414.8px;top:319.6px;font-size:3.1px;line-height:4px;color:#e8eef5;overflow:hidden;width:25.9px">16: Rz1 Filter</div>
<svg class="a" style="left:440.1px;top:320.2px" width="7" height="3" viewBox="0 0 7 3"><circle cx="1.5" cy="1.4" r="0.9" fill="none" stroke="#dfe6ee" stroke-width="0.45"/><path d="M4.8,0.6 L6.2,2.1 M6.2,0.6 L4.8,2.1" stroke="#fff" stroke-width="0.5"/></svg>
<div class="t" style="left:412.2px;top:324.7px;font-size:3.0px;line-height:4px;color:#4a505b;overflow:hidden;width:33.9px">Input FASTA Sequence</div>
<div class="t" style="left:412.2px;top:330.5px;font-size:3.0px;line-height:4px;color:#4a505b;overflow:hidden;width:33.9px">GFF3 Annotations</div>
<div class="a" style="left:411.9px;top:335.6px;width:33.9px;height:0.5px;background:#d3d9df"></div>
<div class="a" style="left:412.0px;top:338.1px;width:1.8px;height:1.8px;border:0.35px solid #9aa7b4"></div>
<div class="a" style="left:414.3px;top:338.3px;width:1.5px;height:1.4px;background:#25527e;border-radius:0.5px"></div>
<div class="t" style="left:416.3px;top:337.0px;font-size:3.0px;line-height:4px;color:#4a505b;overflow:hidden;width:29.9px">rz1_output</div>
<div class="t" style="left:412.2px;top:340.0px;font-size:3.0px;line-height:4px;color:#4a505b;overflow:hidden;width:33.9px">(tabular)</div>
<div class="a" style="left:412.0px;top:347.1px;width:1.8px;height:1.8px;border:0.35px solid #9aa7b4"></div>
<div class="a" style="left:414.3px;top:347.3px;width:1.5px;height:1.4px;background:#25527e;border-radius:0.5px"></div>
<div class="t" style="left:416.3px;top:346.0px;font-size:3.0px;line-height:4px;color:#4a505b;overflow:hidden;width:29.9px">Model (gff3)</div>
<div class="a" style="left:412.0px;top:352.7px;width:1.8px;height:1.8px;border:0.35px solid #9aa7b4"></div>
<div class="a" style="left:414.3px;top:352.9px;width:1.5px;height:1.4px;background:#25527e;border-radius:0.5px"></div>
<div class="t" style="left:416.3px;top:351.6px;font-size:3.0px;line-height:4px;color:#4a505b;overflow:hidden;width:29.9px">Rz1 output (gff3)</div>
<div class="a" style="left:465.8px;top:335.6px;width:38.1px;height:21.1px;background:#fff;border:0.6px solid #a9b8c7;border-radius:1px"></div>
<div class="a" style="left:465.8px;top:335.6px;width:38.1px;height:8.9px;background:#25527e;border-radius:1px 1px 0 0"></div>
<svg class="a" style="left:467.4px;top:336.6px" width="3" height="3" viewBox="0 0 3 3"><path d="M0.3,2.7 L2,1 M1.6,0.4 L2.6,1.4" stroke="#fff" stroke-width="0.6"/></svg>
<div class="t" style="left:470.6px;top:336.1px;font-size:3.1px;line-height:4px;color:#e8eef5;overflow:hidden;width:26.3px">17: Rename</div>
<div class="t" style="left:467.5px;top:340.0px;font-size:3.1px;line-height:4px;color:#fff;overflow:hidden;width:34.8px">Annotation Feature</div>
<svg class="a" style="left:496.3px;top:336.5px" width="7" height="3" viewBox="0 0 7 3"><circle cx="1.5" cy="1.4" r="0.9" fill="none" stroke="#dfe6ee" stroke-width="0.45"/><path d="M4.8,0.6 L6.2,2.1 M6.2,0.6 L4.8,2.1" stroke="#fff" stroke-width="0.5"/></svg>
<div class="t" style="left:468.0px;top:345.4px;font-size:3.0px;line-height:4px;color:#4a505b;overflow:hidden;width:34.3px">GFF3 Annotations</div>
<div class="a" style="left:467.7px;top:350.4px;width:34.3px;height:0.5px;background:#d3d9df"></div>
<div class="a" style="left:467.8px;top:352.4px;width:1.8px;height:1.8px;border:0.35px solid #9aa7b4"></div>
<div class="a" style="left:470.1px;top:352.6px;width:1.5px;height:1.4px;background:#25527e;border-radius:0.5px"></div>
<div class="t" style="left:472.1px;top:351.3px;font-size:3.0px;line-height:4px;color:#4a505b;overflow:hidden;width:30.3px">Mixed output (gff3)</div>
<div class="a" style="left:507.2px;top:335.6px;width:38.1px;height:21.1px;background:#fff;border:0.6px solid #a9b8c7;border-radius:1px"></div>
<div class="a" style="left:507.2px;top:335.6px;width:38.1px;height:8.9px;background:#25527e;border-radius:1px 1px 0 0"></div>
<svg class="a" style="left:508.8px;top:336.6px" width="3" height="3" viewBox="0 0 3 3"><path d="M0.3,2.7 L2,1 M1.6,0.4 L2.6,1.4" stroke="#fff" stroke-width="0.6"/></svg>
<div class="t" style="left:512.0px;top:336.1px;font-size:3.1px;line-height:4px;color:#e8eef5;overflow:hidden;width:26.3px">18: Merge GFF3</div>
<div class="t" style="left:508.9px;top:340.0px;font-size:3.1px;line-height:4px;color:#fff;overflow:hidden;width:34.8px">Merge Feature IDs</div>
<svg class="a" style="left:537.7px;top:336.5px" width="7" height="3" viewBox="0 0 7 3"><circle cx="1.5" cy="1.4" r="0.9" fill="none" stroke="#dfe6ee" stroke-width="0.45"/><path d="M4.8,0.6 L6.2,2.1 M6.2,0.6 L4.8,2.1" stroke="#fff" stroke-width="0.5"/></svg>
<div class="t" style="left:509.4px;top:345.4px;font-size:3.0px;line-height:4px;color:#4a505b;overflow:hidden;width:34.3px">GFF3 Annotations</div>
<div class="a" style="left:509.1px;top:350.4px;width:34.3px;height:0.5px;background:#d3d9df"></div>
<div class="a" style="left:509.2px;top:352.4px;width:1.8px;height:1.8px;border:0.35px solid #9aa7b4"></div>
<div class="a" style="left:511.5px;top:352.6px;width:1.5px;height:1.4px;background:#25527e;border-radius:0.5px"></div>
<div class="t" style="left:513.5px;top:351.3px;font-size:3.0px;line-height:4px;color:#4a505b;overflow:hidden;width:30.3px">Mixed output (gff3)</div>
<div class="a" style="left:324.1px;top:307.4px;width:37.7px;height:42.1px;background:#fff;border:0.6px solid #a9b8c7;border-radius:1px"></div>
<div class="a" style="left:324.1px;top:307.4px;width:37.7px;height:12.2px;background:#25527e;border-radius:1px 1px 0 0"></div>
<svg class="a" style="left:325.7px;top:308.3px" width="3" height="3" viewBox="0 0 3 3"><path d="M0.3,2.7 L2,1 M1.6,0.4 L2.6,1.4" stroke="#fff" stroke-width="0.6"/></svg>
<div class="t" style="left:328.9px;top:307.8px;font-size:3.1px;line-height:4px;color:#e8eef5;overflow:hidden;width:25.9px">19: Glimmer3</div>
<div class="t" style="left:325.8px;top:311.5px;font-size:3.1px;line-height:4px;color:#fff;overflow:hidden;width:34.4px">ab initio Glimmer3 (Gene</div>
<div class="t" style="left:325.8px;top:315.2px;font-size:3.1px;line-height:4px;color:#fff;overflow:hidden;width:34.4px">calling) Glimmer3 (gff3)</div>
<svg class="a" style="left:354.2px;top:308.3px" width="7" height="3" viewBox="0 0 7 3"><circle cx="1.5" cy="1.4" r="0.9" fill="none" stroke="#dfe6ee" stroke-width="0.45"/><path d="M4.8,0.6 L6.2,2.1 M6.2,0.6 L4.8,2.1" stroke="#fff" stroke-width="0.5"/></svg>
<div class="t" style="left:326.3px;top:321.3px;font-size:3.0px;line-height:4px;color:#4a505b;overflow:hidden;width:33.9px">Sequence file (gene calls)</div>
<div class="a" style="left:326.0px;top:326.4px;width:33.9px;height:0.5px;background:#d3d9df"></div>
<div class="a" style="left:326.1px;top:328.7px;width:1.8px;height:1.8px;border:0.35px solid #9aa7b4"></div>
<div class="a" style="left:328.4px;top:328.9px;width:1.5px;height:1.4px;background:#25527e;border-radius:0.5px"></div>
<div class="t" style="left:330.4px;top:327.6px;font-size:3.0px;line-height:4px;color:#4a505b;overflow:hidden;width:29.9px">Predictions (tabular)</div>
<div class="a" style="left:326.1px;top:334.2px;width:1.8px;height:1.8px;border:0.35px solid #9aa7b4"></div>
<div class="a" style="left:328.4px;top:334.4px;width:1.5px;height:1.4px;background:#25527e;border-radius:0.5px"></div>
<div class="t" style="left:330.4px;top:333.1px;font-size:3.0px;line-height:4px;color:#4a505b;overflow:hidden;width:29.9px">Predictions (fasta)</div>
<div class="a" style="left:326.1px;top:339.7px;width:1.8px;height:1.8px;border:0.35px solid #9aa7b4"></div>
<div class="a" style="left:328.4px;top:339.9px;width:1.5px;height:1.4px;background:#25527e;border-radius:0.5px"></div>
<div class="t" style="left:330.4px;top:338.6px;font-size:3.0px;line-height:4px;color:#4a505b;overflow:hidden;width:29.9px">Predictions (gff3)</div>
<div class="a" style="left:326.1px;top:345.3px;width:1.8px;height:1.8px;border:0.35px solid #9aa7b4"></div>
<div class="a" style="left:328.4px;top:345.5px;width:1.5px;height:1.4px;background:#25527e;border-radius:0.5px"></div>
<div class="t" style="left:330.4px;top:344.2px;font-size:3.0px;line-height:4px;color:#4a505b;overflow:hidden;width:29.9px">Glimmer3 (gff3)</div>
<div class="a" style="left:324.1px;top:356.0px;width:37.7px;height:21.2px;background:#fff;border:0.6px solid #a9b8c7;border-radius:1px"></div>
<div class="a" style="left:324.1px;top:356.0px;width:37.7px;height:8.6px;background:#25527e;border-radius:1px 1px 0 0"></div>
<svg class="a" style="left:325.7px;top:356.9px" width="3" height="3" viewBox="0 0 3 3"><path d="M0.3,2.7 L2,1 M1.6,0.4 L2.6,1.4" stroke="#fff" stroke-width="0.6"/></svg>
<div class="t" style="left:328.9px;top:356.4px;font-size:3.1px;line-height:4px;color:#e8eef5;overflow:hidden;width:25.9px">20: Fix GFF3</div>
<div class="t" style="left:325.8px;top:360.2px;font-size:3.1px;line-height:4px;color:#fff;overflow:hidden;width:34.4px">Glimmer Cleanup</div>
<svg class="a" style="left:354.2px;top:356.9px" width="7" height="3" viewBox="0 0 7 3"><circle cx="1.5" cy="1.4" r="0.9" fill="none" stroke="#dfe6ee" stroke-width="0.45"/><path d="M4.8,0.6 L6.2,2.1 M6.2,0.6 L4.8,2.1" stroke="#fff" stroke-width="0.5"/></svg>
<div class="t" style="left:326.3px;top:366.0px;font-size:3.0px;line-height:4px;color:#4a505b;overflow:hidden;width:33.9px">GFF3 Annotations</div>
<div class="a" style="left:326.0px;top:370.7px;width:33.9px;height:0.5px;background:#d3d9df"></div>
<div class="a" style="left:326.1px;top:373.1px;width:1.8px;height:1.8px;border:0.35px solid #9aa7b4"></div>
<div class="a" style="left:328.4px;top:373.3px;width:1.5px;height:1.4px;background:#25527e;border-radius:0.5px"></div>
<div class="t" style="left:330.4px;top:372.0px;font-size:3.0px;line-height:4px;color:#4a505b;overflow:hidden;width:29.9px">Mixed output (gff3)</div>
<div class="a" style="left:324.3px;top:382.5px;width:37.5px;height:26.5px;background:#fff;border:0.6px solid #a9b8c7;border-radius:1px"></div>
<div class="a" style="left:324.3px;top:382.5px;width:37.5px;height:8.9px;background:#25527e;border-radius:1px 1px 0 0"></div>
<svg class="a" style="left:325.9px;top:383.5px" width="3" height="3" viewBox="0 0 3 3"><path d="M0.3,2.7 L2,1 M1.6,0.4 L2.6,1.4" stroke="#fff" stroke-width="0.6"/></svg>
<div class="t" style="left:329.1px;top:383.0px;font-size:3.1px;line-height:4px;color:#e8eef5;overflow:hidden;width:25.7px">21: Sixpack</div>
<div class="t" style="left:326.0px;top:386.9px;font-size:3.1px;line-height:4px;color:#fff;overflow:hidden;width:34.2px">Sequence translation</div>
<svg class="a" style="left:354.2px;top:383.4px" width="7" height="3" viewBox="0 0 7 3"><circle cx="1.5" cy="1.4" r="0.9" fill="none" stroke="#dfe6ee" stroke-width="0.45"/><path d="M4.8,0.6 L6.2,2.1 M6.2,0.6 L4.8,2.1" stroke="#fff" stroke-width="0.5"/></svg>
<div class="t" style="left:326.5px;top:392.2px;font-size:3.0px;line-height:4px;color:#4a505b;overflow:hidden;width:33.7px">Input FASTA Sequence</div>
<div class="t" style="left:326.5px;top:397.8px;font-size:3.0px;line-height:4px;color:#4a505b;overflow:hidden;width:33.7px">GFF3 Annotations</div>
<div class="a" style="left:326.2px;top:402.6px;width:33.7px;height:0.5px;background:#d3d9df"></div>
<div class="a" style="left:326.3px;top:404.5px;width:1.8px;height:1.8px;border:0.35px solid #9aa7b4"></div>
<div class="a" style="left:328.6px;top:404.7px;width:1.5px;height:1.4px;background:#25527e;border-radius:0.5px"></div>
<div class="t" style="left:330.6px;top:403.4px;font-size:3.0px;line-height:4px;color:#4a505b;overflow:hidden;width:29.7px">Mixed output (gff3)</div>
<div class="a" style="left:324.3px;top:414.2px;width:37.5px;height:37.7px;background:#fff;border:0.6px solid #a9b8c7;border-radius:1px"></div>
<div class="a" style="left:324.3px;top:414.2px;width:37.5px;height:4.6px;background:#25527e;border-radius:1px 1px 0 0"></div>
<svg class="a" style="left:325.9px;top:415.0px" width="3" height="3" viewBox="0 0 3 3"><path d="M0.3,2.7 L2,1 M1.6,0.4 L2.6,1.4" stroke="#fff" stroke-width="0.6"/></svg>
<div class="t" style="left:329.1px;top:414.5px;font-size:3.1px;line-height:4px;color:#e8eef5;overflow:hidden;width:25.7px">22: ShineFind</div>
<svg class="a" style="left:354.2px;top:415.1px" width="7" height="3" viewBox="0 0 7 3"><circle cx="1.5" cy="1.4" r="0.9" fill="none" stroke="#dfe6ee" stroke-width="0.45"/><path d="M4.8,0.6 L6.2,2.1 M6.2,0.6 L4.8,2.1" stroke="#fff" stroke-width="0.5"/></svg>
<div class="t" style="left:326.5px;top:420.2px;font-size:3.0px;line-height:4px;color:#4a505b;overflow:hidden;width:33.7px">Input FASTA Sequence</div>
<div class="t" style="left:326.5px;top:425.8px;font-size:3.0px;line-height:4px;color:#4a505b;overflow:hidden;width:33.7px">GFF3 Annotations</div>
<div class="a" style="left:326.2px;top:430.6px;width:33.7px;height:0.5px;background:#d3d9df"></div>
<div class="a" style="left:326.3px;top:432.9px;width:1.8px;height:1.8px;border:0.35px solid #9aa7b4"></div>
<div class="a" style="left:328.6px;top:433.1px;width:1.5px;height:1.4px;background:#25527e;border-radius:0.5px"></div>
<div class="t" style="left:330.6px;top:431.8px;font-size:3.0px;line-height:4px;color:#4a505b;overflow:hidden;width:29.7px">shinefind_output</div>
<div class="t" style="left:326.5px;top:434.8px;font-size:3.0px;line-height:4px;color:#4a505b;overflow:hidden;width:33.7px">(tabular)</div>
<div class="a" style="left:326.3px;top:442.2px;width:1.8px;height:1.8px;border:0.35px solid #9aa7b4"></div>
<div class="a" style="left:328.6px;top:442.4px;width:1.5px;height:1.4px;background:#25527e;border-radius:0.5px"></div>
<div class="t" style="left:330.6px;top:441.1px;font-size:3.0px;line-height:4px;color:#4a505b;overflow:hidden;width:29.7px">Model (gff3)</div>
<div class="a" style="left:326.3px;top:448.2px;width:1.8px;height:1.8px;border:0.35px solid #9aa7b4"></div>
<div class="a" style="left:328.6px;top:448.4px;width:1.5px;height:1.4px;background:#25527e;border-radius:0.5px"></div>
<div class="t" style="left:330.6px;top:447.1px;font-size:3.0px;line-height:4px;color:#4a505b;overflow:hidden;width:29.7px">Mixed output (gff3)</div>
<div class="a" style="left:379.8px;top:432.6px;width:38.3px;height:20.9px;background:#fff;border:0.6px solid #a9b8c7;border-radius:1px"></div>
<div class="a" style="left:379.8px;top:432.6px;width:38.3px;height:9.0px;background:#25527e;border-radius:1px 1px 0 0"></div>
<svg class="a" style="left:381.4px;top:433.6px" width="3" height="3" viewBox="0 0 3 3"><path d="M0.3,2.7 L2,1 M1.6,0.4 L2.6,1.4" stroke="#fff" stroke-width="0.6"/></svg>
<div class="t" style="left:384.6px;top:433.1px;font-size:3.1px;line-height:4px;color:#e8eef5;overflow:hidden;width:26.5px">23: Rename</div>
<div class="t" style="left:381.5px;top:437.1px;font-size:3.1px;line-height:4px;color:#fff;overflow:hidden;width:35.0px">Annotation Features</div>
<svg class="a" style="left:410.5px;top:433.5px" width="7" height="3" viewBox="0 0 7 3"><circle cx="1.5" cy="1.4" r="0.9" fill="none" stroke="#dfe6ee" stroke-width="0.45"/><path d="M4.8,0.6 L6.2,2.1 M6.2,0.6 L4.8,2.1" stroke="#fff" stroke-width="0.5"/></svg>
<div class="t" style="left:382.0px;top:442.8px;font-size:3.0px;line-height:4px;color:#4a505b;overflow:hidden;width:34.5px">GFF3 Annotations</div>
<div class="a" style="left:381.7px;top:447.6px;width:34.5px;height:0.5px;background:#d3d9df"></div>
<div class="a" style="left:381.8px;top:449.5px;width:1.8px;height:1.8px;border:0.35px solid #9aa7b4"></div>
<div class="a" style="left:384.1px;top:449.7px;width:1.5px;height:1.4px;background:#25527e;border-radius:0.5px"></div>
<div class="t" style="left:386.1px;top:448.4px;font-size:3.0px;line-height:4px;color:#4a505b;overflow:hidden;width:30.5px">Mixed output (gff3)</div>
<div class="a" style="left:421.3px;top:432.6px;width:37.8px;height:20.9px;background:#fff;border:0.6px solid #a9b8c7;border-radius:1px"></div>
<div class="a" style="left:421.3px;top:432.6px;width:37.8px;height:9.0px;background:#25527e;border-radius:1px 1px 0 0"></div>
<svg class="a" style="left:422.9px;top:433.6px" width="3" height="3" viewBox="0 0 3 3"><path d="M0.3,2.7 L2,1 M1.6,0.4 L2.6,1.4" stroke="#fff" stroke-width="0.6"/></svg>
<div class="t" style="left:426.1px;top:433.1px;font-size:3.1px;line-height:4px;color:#e8eef5;overflow:hidden;width:26.0px">24: GFF3 Filter</div>
<div class="t" style="left:423.0px;top:437.1px;font-size:3.1px;line-height:4px;color:#fff;overflow:hidden;width:34.5px">Remove CDS in Mixed</div>
<svg class="a" style="left:451.5px;top:433.5px" width="7" height="3" viewBox="0 0 7 3"><circle cx="1.5" cy="1.4" r="0.9" fill="none" stroke="#dfe6ee" stroke-width="0.45"/><path d="M4.8,0.6 L6.2,2.1 M6.2,0.6 L4.8,2.1" stroke="#fff" stroke-width="0.5"/></svg>
<div class="t" style="left:423.5px;top:442.8px;font-size:3.0px;line-height:4px;color:#4a505b;overflow:hidden;width:34.0px">GFF3 Annotations</div>
<div class="a" style="left:423.2px;top:447.6px;width:34.0px;height:0.5px;background:#d3d9df"></div>
<div class="a" style="left:423.3px;top:449.5px;width:1.8px;height:1.8px;border:0.35px solid #9aa7b4"></div>
<div class="a" style="left:425.6px;top:449.7px;width:1.5px;height:1.4px;background:#25527e;border-radius:0.5px"></div>
<div class="t" style="left:427.6px;top:448.4px;font-size:3.0px;line-height:4px;color:#4a505b;overflow:hidden;width:30.0px">Mixed output (gff3)</div>
<div class="a" style="left:462.6px;top:432.6px;width:37.8px;height:20.9px;background:#fff;border:0.6px solid #a9b8c7;border-radius:1px"></div>
<div class="a" style="left:462.6px;top:432.6px;width:37.8px;height:9.0px;background:#25527e;border-radius:1px 1px 0 0"></div>
<svg class="a" style="left:464.2px;top:433.6px" width="3" height="3" viewBox="0 0 3 3"><path d="M0.3,2.7 L2,1 M1.6,0.4 L2.6,1.4" stroke="#fff" stroke-width="0.6"/></svg>
<div class="t" style="left:467.4px;top:433.1px;font-size:3.1px;line-height:4px;color:#e8eef5;overflow:hidden;width:26.0px">25: Merge GFF3</div>
<div class="t" style="left:464.3px;top:437.1px;font-size:3.1px;line-height:4px;color:#fff;overflow:hidden;width:34.5px">Merge Feature IDs</div>
<svg class="a" style="left:492.8px;top:433.5px" width="7" height="3" viewBox="0 0 7 3"><circle cx="1.5" cy="1.4" r="0.9" fill="none" stroke="#dfe6ee" stroke-width="0.45"/><path d="M4.8,0.6 L6.2,2.1 M6.2,0.6 L4.8,2.1" stroke="#fff" stroke-width="0.5"/></svg>
<div class="t" style="left:464.8px;top:442.8px;font-size:3.0px;line-height:4px;color:#4a505b;overflow:hidden;width:34.0px">GFF3 Annotations</div>
<div class="a" style="left:464.5px;top:447.6px;width:34.0px;height:0.5px;background:#d3d9df"></div>
<div class="a" style="left:464.6px;top:449.5px;width:1.8px;height:1.8px;border:0.35px solid #9aa7b4"></div>
<div class="a" style="left:466.9px;top:449.7px;width:1.5px;height:1.4px;background:#25527e;border-radius:0.5px"></div>
<div class="t" style="left:468.9px;top:448.4px;font-size:3.0px;line-height:4px;color:#4a505b;overflow:hidden;width:30.0px">Mixed output (gff3)</div>
<svg class="a" style="left:0;top:0;overflow:visible" width="888" height="466"><circle cx="211.8" cy="150.2" r="1.3" fill="#25527e" stroke="#dde6ee" stroke-width="0.45"/><circle cx="211.8" cy="166.8" r="1.3" fill="#25527e" stroke="#dde6ee" stroke-width="0.45"/><circle cx="228.3" cy="150.0" r="1.3" fill="#25527e" stroke="#dde6ee" stroke-width="0.45"/><circle cx="265.2" cy="156.0" r="1.3" fill="#25527e" stroke="#dde6ee" stroke-width="0.45"/><circle cx="305.9" cy="63.6" r="1.3" fill="#25527e" stroke="#dde6ee" stroke-width="0.45"/><circle cx="342.6" cy="69.4" r="1.3" fill="#25527e" stroke="#dde6ee" stroke-width="0.45"/><circle cx="350.6" cy="71.2" r="1.3" fill="#25527e" stroke="#dde6ee" stroke-width="0.45"/><circle cx="387.5" cy="77.3" r="1.3" fill="#25527e" stroke="#dde6ee" stroke-width="0.45"/><circle cx="395.3" cy="67.4" r="1.3" fill="#25527e" stroke="#dde6ee" stroke-width="0.45"/><circle cx="432.2" cy="73.3" r="1.3" fill="#25527e" stroke="#dde6ee" stroke-width="0.45"/><circle cx="306.0" cy="104.8" r="1.3" fill="#25527e" stroke="#dde6ee" stroke-width="0.45"/><circle cx="342.6" cy="110.5" r="1.3" fill="#25527e" stroke="#dde6ee" stroke-width="0.45"/><circle cx="350.3" cy="108.5" r="1.3" fill="#25527e" stroke="#dde6ee" stroke-width="0.45"/><circle cx="387.4" cy="114.3" r="1.3" fill="#25527e" stroke="#dde6ee" stroke-width="0.45"/><circle cx="642.2" cy="119.6" r="1.3" fill="#25527e" stroke="#dde6ee" stroke-width="0.45"/><circle cx="642.2" cy="128.9" r="1.3" fill="#25527e" stroke="#dde6ee" stroke-width="0.45"/><circle cx="642.2" cy="142.3" r="1.3" fill="#25527e" stroke="#dde6ee" stroke-width="0.45"/><circle cx="679.3" cy="155.9" r="1.3" fill="#25527e" stroke="#dde6ee" stroke-width="0.45"/><circle cx="683.3" cy="123.6" r="1.3" fill="#25527e" stroke="#dde6ee" stroke-width="0.45"/><circle cx="720.5" cy="129.1" r="1.3" fill="#25527e" stroke="#dde6ee" stroke-width="0.45"/><circle cx="701.9" cy="146.1" r="1.3" fill="#25527e" stroke="#dde6ee" stroke-width="0.45"/><circle cx="739.3" cy="151.9" r="1.3" fill="#25527e" stroke="#dde6ee" stroke-width="0.45"/><circle cx="721.0" cy="172.2" r="1.3" fill="#25527e" stroke="#dde6ee" stroke-width="0.45"/><circle cx="758.1" cy="178.0" r="1.3" fill="#25527e" stroke="#dde6ee" stroke-width="0.45"/><circle cx="481.5" cy="164.2" r="1.3" fill="#25527e" stroke="#dde6ee" stroke-width="0.45"/><circle cx="518.6" cy="170.5" r="1.3" fill="#25527e" stroke="#dde6ee" stroke-width="0.45"/><circle cx="481.5" cy="190.5" r="1.3" fill="#25527e" stroke="#dde6ee" stroke-width="0.45"/><circle cx="481.5" cy="196.4" r="1.3" fill="#25527e" stroke="#dde6ee" stroke-width="0.45"/><circle cx="518.6" cy="202.1" r="1.3" fill="#25527e" stroke="#dde6ee" stroke-width="0.45"/><circle cx="481.2" cy="220.6" r="1.3" fill="#25527e" stroke="#dde6ee" stroke-width="0.45"/><circle cx="481.2" cy="226.2" r="1.3" fill="#25527e" stroke="#dde6ee" stroke-width="0.45"/><circle cx="518.9" cy="231.9" r="1.3" fill="#25527e" stroke="#dde6ee" stroke-width="0.45"/><circle cx="518.9" cy="241.5" r="1.3" fill="#25527e" stroke="#dde6ee" stroke-width="0.45"/><circle cx="518.9" cy="246.8" r="1.3" fill="#25527e" stroke="#dde6ee" stroke-width="0.45"/><circle cx="537.1" cy="243.0" r="1.3" fill="#25527e" stroke="#dde6ee" stroke-width="0.45"/><circle cx="574.7" cy="248.6" r="1.3" fill="#25527e" stroke="#dde6ee" stroke-width="0.45"/><circle cx="578.6" cy="243.0" r="1.3" fill="#25527e" stroke="#dde6ee" stroke-width="0.45"/><circle cx="615.8" cy="248.6" r="1.3" fill="#25527e" stroke="#dde6ee" stroke-width="0.45"/><circle cx="410.5" cy="242.7" r="1.3" fill="#25527e" stroke="#dde6ee" stroke-width="0.45"/><circle cx="447.5" cy="248.9" r="1.3" fill="#25527e" stroke="#dde6ee" stroke-width="0.45"/><circle cx="410.5" cy="268.7" r="1.3" fill="#25527e" stroke="#dde6ee" stroke-width="0.45"/><circle cx="410.5" cy="274.9" r="1.3" fill="#25527e" stroke="#dde6ee" stroke-width="0.45"/><circle cx="447.5" cy="280.6" r="1.3" fill="#25527e" stroke="#dde6ee" stroke-width="0.45"/><circle cx="410.4" cy="302.7" r="1.3" fill="#25527e" stroke="#dde6ee" stroke-width="0.45"/><circle cx="447.3" cy="308.7" r="1.3" fill="#25527e" stroke="#dde6ee" stroke-width="0.45"/><circle cx="410.4" cy="326.7" r="1.3" fill="#25527e" stroke="#dde6ee" stroke-width="0.45"/><circle cx="410.4" cy="332.5" r="1.3" fill="#25527e" stroke="#dde6ee" stroke-width="0.45"/><circle cx="447.3" cy="339.0" r="1.3" fill="#25527e" stroke="#dde6ee" stroke-width="0.45"/><circle cx="447.3" cy="348.0" r="1.3" fill="#25527e" stroke="#dde6ee" stroke-width="0.45"/><circle cx="447.3" cy="353.6" r="1.3" fill="#25527e" stroke="#dde6ee" stroke-width="0.45"/><circle cx="466.2" cy="347.4" r="1.3" fill="#25527e" stroke="#dde6ee" stroke-width="0.45"/><circle cx="503.5" cy="353.3" r="1.3" fill="#25527e" stroke="#dde6ee" stroke-width="0.45"/><circle cx="507.6" cy="347.4" r="1.3" fill="#25527e" stroke="#dde6ee" stroke-width="0.45"/><circle cx="544.9" cy="353.3" r="1.3" fill="#25527e" stroke="#dde6ee" stroke-width="0.45"/><circle cx="324.5" cy="323.3" r="1.3" fill="#25527e" stroke="#dde6ee" stroke-width="0.45"/><circle cx="361.4" cy="329.6" r="1.3" fill="#25527e" stroke="#dde6ee" stroke-width="0.45"/><circle cx="361.4" cy="335.1" r="1.3" fill="#25527e" stroke="#dde6ee" stroke-width="0.45"/><circle cx="361.4" cy="340.6" r="1.3" fill="#25527e" stroke="#dde6ee" stroke-width="0.45"/><circle cx="361.4" cy="346.2" r="1.3" fill="#25527e" stroke="#dde6ee" stroke-width="0.45"/><circle cx="324.5" cy="368.0" r="1.3" fill="#25527e" stroke="#dde6ee" stroke-width="0.45"/><circle cx="361.4" cy="374.0" r="1.3" fill="#25527e" stroke="#dde6ee" stroke-width="0.45"/><circle cx="324.7" cy="394.2" r="1.3" fill="#25527e" stroke="#dde6ee" stroke-width="0.45"/><circle cx="324.7" cy="399.8" r="1.3" fill="#25527e" stroke="#dde6ee" stroke-width="0.45"/><circle cx="361.4" cy="405.4" r="1.3" fill="#25527e" stroke="#dde6ee" stroke-width="0.45"/><circle cx="324.7" cy="422.2" r="1.3" fill="#25527e" stroke="#dde6ee" stroke-width="0.45"/><circle cx="324.7" cy="427.8" r="1.3" fill="#25527e" stroke="#dde6ee" stroke-width="0.45"/><circle cx="361.4" cy="433.8" r="1.3" fill="#25527e" stroke="#dde6ee" stroke-width="0.45"/><circle cx="361.4" cy="443.1" r="1.3" fill="#25527e" stroke="#dde6ee" stroke-width="0.45"/><circle cx="361.4" cy="449.1" r="1.3" fill="#25527e" stroke="#dde6ee" stroke-width="0.45"/><circle cx="380.2" cy="444.8" r="1.3" fill="#25527e" stroke="#dde6ee" stroke-width="0.45"/><circle cx="417.7" cy="450.4" r="1.3" fill="#25527e" stroke="#dde6ee" stroke-width="0.45"/><circle cx="421.7" cy="444.8" r="1.3" fill="#25527e" stroke="#dde6ee" stroke-width="0.45"/><circle cx="458.7" cy="450.4" r="1.3" fill="#25527e" stroke="#dde6ee" stroke-width="0.45"/><circle cx="463.0" cy="444.8" r="1.3" fill="#25527e" stroke="#dde6ee" stroke-width="0.45"/><circle cx="500.0" cy="450.4" r="1.3" fill="#25527e" stroke="#dde6ee" stroke-width="0.45"/></svg>
<div class="a" style="left:110.4px;top:449.3px;width:45px;height:8.3px;background:#f1f4f8;border-radius:1.5px"></div>
<div class="a" style="left:110.4px;top:449.3px;width:10.4px;height:8.3px;background:#dde2e8;border-radius:1.5px"></div>
<div class="a" style="left:114px;top:453.2px;width:3.2px;height:0.8px;background:#3a3f4a"></div>
<div class="t" style="left:128.6px;top:451.3px;font-size:4.6px;color:#2a2f38">50%</div>
<div class="a" style="left:145.3px;top:449.3px;width:10.4px;height:8.3px;background:#dde2e8;border-radius:1.5px"></div>
<div class="a" style="left:148.9px;top:453.2px;width:3.2px;height:0.8px;background:#3a3f4a"></div>
<div class="a" style="left:150.1px;top:451.8px;width:0.8px;height:3.4px;background:#3a3f4a"></div>
<div class="a" style="left:714px;top:398.3px;width:66.2px;height:65.7px;background:#f6f9fc;border-left:0.8px solid #dde3ea;border-top:0.8px solid #dde3ea"></div>
<svg class="a" style="left:714.5px;top:398.8px" width="4" height="4" viewBox="0 0 4 4"><path d="M0.5,3.5 L3.5,0.5 M0.5,2 L2,0.5" stroke="#999" stroke-width="0.6"/></svg>
<div class="a" style="left:716.7px;top:410.3px;width:63px;height:42.8px;background:#d4d5d9;border:0.5px solid #bcd0e4"></div>
<svg class="a" style="left:0;top:0;overflow:visible" width="888" height="466"><rect x="718.65" y="415.67" width="10.13" height="3.05" fill="#f2f2f2" stroke="#aaa" stroke-width="0.4"/><rect x="718.53" y="419.72" width="10.11" height="5.15" fill="#f0f0f0" stroke="#555" stroke-width="0.6" stroke-opacity="0.7"/><rect x="731.67" y="412.03" width="13.85" height="3.65" fill="#e4f9dc" stroke="#279a08" stroke-width="0.6" stroke-opacity="0.7"/><rect x="731.69" y="416.07" width="9.34" height="3.29" fill="#e4f9dc" stroke="#279a08" stroke-width="0.6" stroke-opacity="0.7"/><rect x="765.43" y="417.54" width="12.83" height="8.06" fill="#f0f0f0" stroke="#555" stroke-width="0.6" stroke-opacity="0.7"/><rect x="748.56" y="421.98" width="5.96" height="10.61" fill="#eef3fd" stroke="#0d55f2" stroke-width="0.6" stroke-opacity="0.7"/><rect x="754.95" y="429.30" width="8.98" height="3.31" fill="#fdf0f9" stroke="#ff00a6" stroke-width="0.6" stroke-opacity="0.7"/><rect x="741.44" y="429.30" width="5.96" height="13.53" fill="#eef3fd" stroke="#0d55f2" stroke-width="0.6" stroke-opacity="0.7"/><rect x="747.81" y="439.60" width="8.60" height="3.29" fill="#fdf0f9" stroke="#ff00a6" stroke-width="0.6" stroke-opacity="0.7"/><rect x="733.01" y="436.83" width="5.80" height="15.59" fill="#f4fbfc" stroke="#10aec3" stroke-width="0.6" stroke-opacity="0.7"/><rect x="739.18" y="449.21" width="13.15" height="3.23" fill="#fdf0f9" stroke="#ff00a6" stroke-width="0.6" stroke-opacity="0.7"/><rect x="719.26" y="421.20" width="3.08" height="0.86" fill="#25527e"/><rect x="719.26" y="422.87" width="3.08" height="0.84" fill="#25527e"/><rect x="724.60" y="421.20" width="3.10" height="1.43" fill="#25527e"/><rect x="732.38" y="413.04" width="3.08" height="1.06" fill="#25527e"/><rect x="736.87" y="413.04" width="3.10" height="1.85" fill="#25527e"/><rect x="741.35" y="413.04" width="3.10" height="1.47" fill="#25527e"/><rect x="732.39" y="417.11" width="3.07" height="1.04" fill="#25527e"/><rect x="736.84" y="417.11" width="3.12" height="1.44" fill="#25527e"/><rect x="766.11" y="418.57" width="3.12" height="4.00" fill="#25527e"/><rect x="770.23" y="418.57" width="3.13" height="1.43" fill="#25527e"/><rect x="772.10" y="421.18" width="3.15" height="1.02" fill="#25527e"/><rect x="774.02" y="423.39" width="3.12" height="1.36" fill="#25527e"/><rect x="749.99" y="423.03" width="3.12" height="1.04" fill="#25527e"/><rect x="749.99" y="425.21" width="3.12" height="1.99" fill="#25527e"/><rect x="749.96" y="428.52" width="3.18" height="3.13" fill="#25527e"/><rect x="755.57" y="430.38" width="3.17" height="1.42" fill="#25527e"/><rect x="759.73" y="430.38" width="3.13" height="1.42" fill="#25527e"/><rect x="742.87" y="430.36" width="3.11" height="1.43" fill="#25527e"/><rect x="742.87" y="433.31" width="3.11" height="1.64" fill="#25527e"/><rect x="742.86" y="436.26" width="3.10" height="1.43" fill="#25527e"/><rect x="742.86" y="439.05" width="3.10" height="3.03" fill="#25527e"/><rect x="748.46" y="440.66" width="3.14" height="1.44" fill="#25527e"/><rect x="752.61" y="440.66" width="3.14" height="1.44" fill="#25527e"/><rect x="734.25" y="437.88" width="3.10" height="3.51" fill="#25527e"/><rect x="734.25" y="442.67" width="3.10" height="1.45" fill="#25527e"/><rect x="734.27" y="445.28" width="3.08" height="1.97" fill="#25527e"/><rect x="734.27" y="448.40" width="3.08" height="3.07" fill="#25527e"/><rect x="739.83" y="450.21" width="3.16" height="1.42" fill="#25527e"/><rect x="744.00" y="450.21" width="3.11" height="1.42" fill="#25527e"/><rect x="748.14" y="450.21" width="3.11" height="1.42" fill="#25527e"/><g transform="translate(701.40,407.30) scale(0.1003,0.0985)" fill="none" stroke="#ff10b0" stroke-width="9" stroke-linecap="round" stroke-linejoin="round" opacity="0.8"><path d="M188.3,210.3 L208.5,196 L238.6,209.2 M188.3,211 L232.6,211 L234,238 M188.3,211 L189.8,238 L228.8,238 M189.8,238 L212,254.8 L223.1,245 M192.8,216.3 L200.3,232 M203,236.5 L210,216.3 L216.7,233.5 M219,233.5 L231.2,212.5 M212,256 L217,292 M179.2,296.6 Q183,290 185,278 Q187,268 189,268 Q192,270 204.3,291 M193.1,293.8 L221,286.1 M193.1,294.5 L197.3,310 M220.3,295.9 L251,259 L276.8,286.8 M221,293.1 L250.3,277.8 L261.5,296.6"/></g></svg>
<div class="a" style="left:780px;top:16px;width:106px;height:448px;background:#fafcfd;border-left:1px solid #e1e6ec"></div>
<div class="a" style="left:781px;top:16px;width:105px;height:13.8px;background:#f2f7fa"></div>
<svg class="a" style="left:790px;top:20px" width="6" height="5" viewBox="0 0 6 5"><path d="M0.5,4.6 L0.8,3.6 L4.2,0.3 L5.2,1.2 L1.8,4.4 Z" fill="#25527e"/></svg>
<svg class="a" style="left:803.7px;top:20.4px" width="6" height="5" viewBox="0 0 6 5"><rect x="0.4" y="0.4" width="5" height="4.2" fill="none" stroke="#b8bec6" stroke-width="0.6"/><path d="M2.9,0.4 L2.9,4.6" stroke="#b8bec6" stroke-width="0.6"/></svg>
<svg class="a" style="left:816.5px;top:20.2px" width="7" height="5" viewBox="0 0 7 5"><rect x="0.4" y="0.9" width="4.6" height="3.8" fill="none" stroke="#25527e" stroke-width="0.8"/><path d="M2,3.4 L6,0.2" stroke="#25527e" stroke-width="1"/></svg>
<svg class="a" style="left:831.9px;top:20.4px" width="5" height="5" viewBox="0 0 5 5"><circle cx="2.5" cy="2.5" r="1.7" fill="none" stroke="#25527e" stroke-width="1.3"/></svg>
<svg class="a" style="left:845.7px;top:20.4px" width="5" height="5" viewBox="0 0 5 5"><path d="M0.5,0.3 L4.6,2.5 L0.5,4.7 Z" fill="#25527e"/></svg>
<div class="t" style="left:786.1px;top:38.1px;font-size:4.75px;font-weight:bold;color:#222">Name</div>
<div class="a" style="left:786.1px;top:42.8px;width:94.4px;height:11.7px;background:#fff;border:0.7px solid #dfe3e8;border-radius:1px"></div>
<div class="t" style="left:790.9px;top:45.6px;font-size:4.7px;line-height:1.35;color:#333;width:88px;overflow:hidden">PAP Structural Workflow v2023.01 (imported from uploaded file)</div>
<div class="t" style="left:786.1px;top:60px;font-size:4.75px;font-weight:bold;color:#222">Version</div>
<div class="a" style="left:786.1px;top:65.1px;width:94.4px;height:11.5px;background:#fff;border:0.7px solid #dfe3e8;border-radius:1px"></div>
<div class="t" style="left:790.9px;top:68.6px;font-size:4.8px;color:#333">1: Oct 20th 2023, 38 steps</div>
<div class="t" style="left:873px;top:68.5px;font-size:4px;color:#555">&#8661;</div>
<div class="t" style="left:786.1px;top:82.1px;font-size:4.75px;font-weight:bold;color:#222">Annotation</div>
<div class="a" style="left:786.1px;top:87.5px;width:94.4px;height:18.9px;background:#fff;border:0.7px solid #dfe3e8;border-radius:1px"></div>
<svg class="a" style="left:876.5px;top:102.5px" width="3" height="3" viewBox="0 0 3 3"><path d="M0.3,2.8 L2.8,0.3 M1.5,2.8 L2.8,1.5" stroke="#999" stroke-width="0.4"/></svg>
<div class="t" style="left:786.1px;top:110.1px;font-size:4.72px;color:#333;">These notes will be visible when this</div>
<div class="t" style="left:786.1px;top:117.3px;font-size:4.72px;color:#333;">workflow is viewed.</div>
<div class="t" style="left:786.1px;top:126.5px;font-size:4.75px;font-weight:bold;color:#222">License</div>
<div class="t" style="left:786.1px;top:133.5px;font-size:4.72px;color:#25527e;font-style:italic;">Specify a license for this workflow.</div>
<div class="t" style="left:786.1px;top:144.5px;font-size:4.75px;font-weight:bold;color:#222">Creator</div>
<div class="t" style="left:786.1px;top:151px;font-size:4.72px;color:#444;font-style:italic;">Add a new creator - either a person or an</div>
<div class="t" style="left:786.1px;top:158.1px;font-size:4.72px;color:#25527e;font-style:italic;">organization.</div>
<div class="t" style="left:786.1px;top:168.2px;font-size:4.75px;font-weight:bold;color:#222">Tags</div>
<div class="a" style="left:789px;top:174.2px;width:28px;height:6.4px;background:#c9c2f4;border-radius:1px"></div>
<div class="t" style="left:790.5px;top:175.1px;font-size:4.55px;color:#222">0DCH404 &#215;</div>
<div class="a" style="left:818.6px;top:174.2px;width:28px;height:6.4px;background:#a3d9f6;border-radius:1px"></div>
<div class="t" style="left:820.1px;top:175.1px;font-size:4.55px;color:#222">structural &#215;</div>
<div class="a" style="left:789px;top:182.3px;width:30.3px;height:6.5px;background:#f0c000;border-radius:1px"></div>
<div class="t" style="left:790.5px;top:183.20000000000002px;font-size:4.55px;color:#222">annotation &#215;</div>
<div class="a" style="left:820.8px;top:182.3px;width:29.6px;height:6.5px;background:#22cfee;border-radius:1px"></div>
<div class="t" style="left:822.3px;top:183.20000000000002px;font-size:4.55px;color:#222">comments &#215;</div>
<div class="a" style="left:852.4px;top:182.3px;width:22px;height:6.5px;background:#22c96e;border-radius:1px"></div>
<div class="t" style="left:853.9px;top:183.20000000000002px;font-size:4.55px;color:#222">cpt23 &#215;</div>
<div class="t" style="left:790.5px;top:191.8px;font-size:4.6px;color:#333">Add Tags &#9873;</div>
<div class="t" style="left:786.1px;top:199.8px;font-size:4.72px;color:#333;">Apply tags to make it easy to search for and</div>
<div class="t" style="left:786.1px;top:207px;font-size:4.72px;color:#333;">find items with the same tag.</div>
<div class="a" style="left:781px;top:453.9px;width:105px;height:10px;background:#f3f7fa"></div>
<div class="a" style="left:782.8px;top:456.3px;width:0.9px;height:4.7px;background:#777"></div>
<div class="a" style="left:784.6px;top:456.3px;width:0.9px;height:4.7px;background:#777"></div>
<div class="t" style="left:879px;top:454px;font-size:7px;color:#333">&#8250;</div></body></html>
